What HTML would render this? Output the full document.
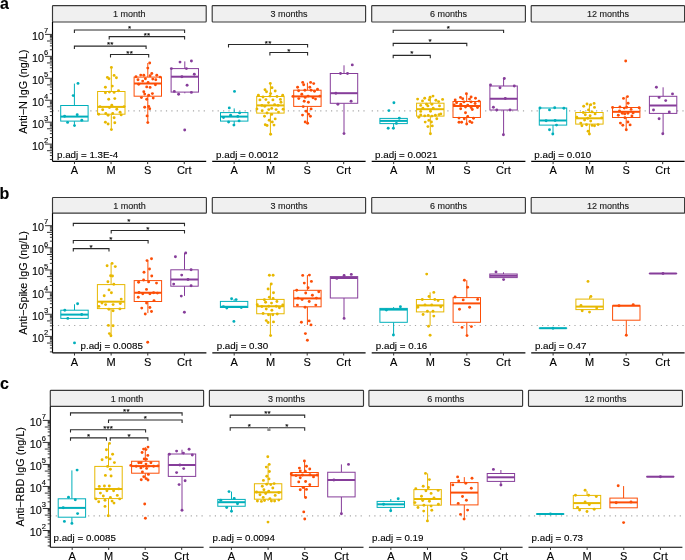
<!DOCTYPE html>
<html><head><meta charset="utf-8"><title>figure</title><style>
html,body{margin:0;padding:0;background:#fff;overflow:hidden;}
svg{display:block;will-change:transform;font-family:"Liberation Sans",sans-serif;}
text{stroke:#000;stroke-width:0.12px;paint-order:stroke;}
.lab{font-weight:bold;font-size:16px;fill:#000;}
.ttl{font-size:10.8px;fill:#000;text-anchor:middle;}
.strip{fill:#F0F0F0;stroke:#383838;stroke-width:1.15;}
.stx{font-size:9px;fill:#1a1a1a;text-anchor:middle;}
.dot{stroke:#a8a8a8;stroke-width:1.2;stroke-dasharray:1.2 4.2;}
.wh{stroke-width:1;}
.box{fill:#fff;stroke-width:1;}
.med{stroke-width:2;}
.br{fill:none;stroke:#2a2a2a;stroke-width:1.1;}
.star{font-size:8px;fill:#000;text-anchor:middle;stroke:#000;stroke-width:0.15px;letter-spacing:0.24px;}
.padj{font-size:9.8px;fill:#000;}
.ax{stroke:#000;stroke-width:1.15;}
.tk{stroke:#333;stroke-width:1;}
.xl{font-size:11px;fill:#000;text-anchor:middle;}
.yl{font-size:10.8px;fill:#000;}
.ys{font-size:7.5px;fill:#000;}
</style></head><body>
<svg width="685" height="560" viewBox="0 0 685 560">
<rect width="685" height="560" fill="#fff"/>
<text x="0.05" y="8.9" class="lab">a</text>
<text transform="translate(27.3,91.7) rotate(-90)" class="ttl">Anti−N IgG (ng/L)</text>
<rect x="52.5" y="5.65" width="153.7" height="16.35" rx="0.7" class="strip"/>
<text x="129.35" y="17.15" class="stx">1 month</text>
<line x1="52.5" y1="110.8" x2="206.2" y2="110.8" class="dot"/>
<line x1="74.4" y1="83.6" x2="74.4" y2="105.5" stroke="#00AFBB" class="wh"/>
<line x1="74.4" y1="121.1" x2="74.4" y2="125.4" stroke="#00AFBB" class="wh"/>
<rect x="60.7" y="105.5" width="27.4" height="15.6" stroke="#00AFBB" class="box"/>
<line x1="60.7" y1="116.6" x2="88.1" y2="116.6" stroke="#00AFBB" class="med"/>
<circle cx="78" cy="83.4" r="1.45" fill="#00AFBB"/>
<circle cx="73.2" cy="95.6" r="1.45" fill="#00AFBB"/>
<circle cx="64.6" cy="116.3" r="1.45" fill="#00AFBB"/>
<circle cx="77.2" cy="114.7" r="1.45" fill="#00AFBB"/>
<circle cx="81.8" cy="120.2" r="1.45" fill="#00AFBB"/>
<circle cx="67.6" cy="122.4" r="1.45" fill="#00AFBB"/>
<circle cx="74.5" cy="125.6" r="1.45" fill="#00AFBB"/>
<line x1="111.3" y1="67.4" x2="111.3" y2="91.5" stroke="#E7B800" class="wh"/>
<line x1="111.3" y1="114.2" x2="111.3" y2="129.6" stroke="#E7B800" class="wh"/>
<rect x="97.6" y="91.5" width="27.4" height="22.7" stroke="#E7B800" class="box"/>
<line x1="97.6" y1="106.9" x2="125" y2="106.9" stroke="#E7B800" class="med"/>
<circle cx="111.4" cy="67.4" r="1.45" fill="#E7B800"/>
<circle cx="114.1" cy="75.4" r="1.45" fill="#E7B800"/>
<circle cx="116.4" cy="77.8" r="1.45" fill="#E7B800"/>
<circle cx="107.4" cy="77.4" r="1.45" fill="#E7B800"/>
<circle cx="109" cy="78.7" r="1.45" fill="#E7B800"/>
<circle cx="105.4" cy="87.2" r="1.45" fill="#E7B800"/>
<circle cx="112.3" cy="86.1" r="1.45" fill="#E7B800"/>
<circle cx="105.4" cy="92.8" r="1.45" fill="#E7B800"/>
<circle cx="109.4" cy="92.1" r="1.45" fill="#E7B800"/>
<circle cx="114.1" cy="92.4" r="1.45" fill="#E7B800"/>
<circle cx="118.5" cy="90.8" r="1.45" fill="#E7B800"/>
<circle cx="108.7" cy="99.2" r="1.45" fill="#E7B800"/>
<circle cx="114.8" cy="98.6" r="1.45" fill="#E7B800"/>
<circle cx="100" cy="106.6" r="1.45" fill="#E7B800"/>
<circle cx="111.8" cy="105.2" r="1.45" fill="#E7B800"/>
<circle cx="109.4" cy="107.5" r="1.45" fill="#E7B800"/>
<circle cx="102.7" cy="109.8" r="1.45" fill="#E7B800"/>
<circle cx="116.8" cy="109.3" r="1.45" fill="#E7B800"/>
<circle cx="124.1" cy="106.6" r="1.45" fill="#E7B800"/>
<circle cx="98.7" cy="114.2" r="1.45" fill="#E7B800"/>
<circle cx="105.8" cy="113.5" r="1.45" fill="#E7B800"/>
<circle cx="108.1" cy="115.2" r="1.45" fill="#E7B800"/>
<circle cx="112.7" cy="113.5" r="1.45" fill="#E7B800"/>
<circle cx="120.1" cy="112.2" r="1.45" fill="#E7B800"/>
<circle cx="121.2" cy="114.9" r="1.45" fill="#E7B800"/>
<circle cx="114.1" cy="117.8" r="1.45" fill="#E7B800"/>
<circle cx="105.4" cy="122.2" r="1.45" fill="#E7B800"/>
<circle cx="108.1" cy="124" r="1.45" fill="#E7B800"/>
<circle cx="114.8" cy="122.7" r="1.45" fill="#E7B800"/>
<circle cx="111.4" cy="129.6" r="1.45" fill="#E7B800"/>
<line x1="147.8" y1="63" x2="147.8" y2="77.1" stroke="#FC4E07" class="wh"/>
<line x1="147.8" y1="96.2" x2="147.8" y2="122.6" stroke="#FC4E07" class="wh"/>
<rect x="134.1" y="77.1" width="27.4" height="19.1" stroke="#FC4E07" class="box"/>
<line x1="134.1" y1="83.5" x2="161.5" y2="83.5" stroke="#FC4E07" class="med"/>
<circle cx="149.7" cy="63" r="1.45" fill="#FC4E07"/>
<circle cx="147.8" cy="68.1" r="1.45" fill="#FC4E07"/>
<circle cx="136" cy="76.7" r="1.45" fill="#FC4E07"/>
<circle cx="140.7" cy="75.1" r="1.45" fill="#FC4E07"/>
<circle cx="143.8" cy="75.3" r="1.45" fill="#FC4E07"/>
<circle cx="151.8" cy="73.5" r="1.45" fill="#FC4E07"/>
<circle cx="150.1" cy="75.7" r="1.45" fill="#FC4E07"/>
<circle cx="156.8" cy="75.3" r="1.45" fill="#FC4E07"/>
<circle cx="160.1" cy="77.1" r="1.45" fill="#FC4E07"/>
<circle cx="138" cy="79.8" r="1.45" fill="#FC4E07"/>
<circle cx="142.7" cy="81.1" r="1.45" fill="#FC4E07"/>
<circle cx="145.4" cy="78.8" r="1.45" fill="#FC4E07"/>
<circle cx="152.8" cy="79.1" r="1.45" fill="#FC4E07"/>
<circle cx="155.8" cy="79.8" r="1.45" fill="#FC4E07"/>
<circle cx="138.7" cy="84.2" r="1.45" fill="#FC4E07"/>
<circle cx="148.1" cy="82.4" r="1.45" fill="#FC4E07"/>
<circle cx="155.4" cy="84.7" r="1.45" fill="#FC4E07"/>
<circle cx="146.7" cy="86.9" r="1.45" fill="#FC4E07"/>
<circle cx="150.1" cy="87.4" r="1.45" fill="#FC4E07"/>
<circle cx="143.8" cy="91.8" r="1.45" fill="#FC4E07"/>
<circle cx="144.7" cy="94.1" r="1.45" fill="#FC4E07"/>
<circle cx="148.7" cy="95.2" r="1.45" fill="#FC4E07"/>
<circle cx="152.4" cy="93.6" r="1.45" fill="#FC4E07"/>
<circle cx="141.4" cy="97.6" r="1.45" fill="#FC4E07"/>
<circle cx="146.7" cy="99.2" r="1.45" fill="#FC4E07"/>
<circle cx="153.2" cy="98.1" r="1.45" fill="#FC4E07"/>
<circle cx="144.7" cy="107.2" r="1.45" fill="#FC4E07"/>
<circle cx="148.7" cy="106.5" r="1.45" fill="#FC4E07"/>
<circle cx="149.7" cy="108.8" r="1.45" fill="#FC4E07"/>
<circle cx="147.1" cy="115.9" r="1.45" fill="#FC4E07"/>
<circle cx="147.8" cy="122.6" r="1.45" fill="#FC4E07"/>
<line x1="184.8" y1="61.4" x2="184.8" y2="68.6" stroke="#863D9A" class="wh"/>
<line x1="184.8" y1="92.1" x2="184.8" y2="93.3" stroke="#863D9A" class="wh"/>
<rect x="171.1" y="68.6" width="27.4" height="23.5" stroke="#863D9A" class="box"/>
<line x1="171.1" y1="76.7" x2="198.5" y2="76.7" stroke="#863D9A" class="med"/>
<circle cx="180" cy="62.1" r="1.45" fill="#863D9A"/>
<circle cx="191.4" cy="61" r="1.45" fill="#863D9A"/>
<circle cx="171.4" cy="68.6" r="1.45" fill="#863D9A"/>
<circle cx="186.4" cy="68.6" r="1.45" fill="#863D9A"/>
<circle cx="194.3" cy="74.3" r="1.45" fill="#863D9A"/>
<circle cx="181.9" cy="76.7" r="1.45" fill="#863D9A"/>
<circle cx="187.1" cy="85.3" r="1.45" fill="#863D9A"/>
<circle cx="174.3" cy="91.4" r="1.45" fill="#863D9A"/>
<circle cx="178.6" cy="94.3" r="1.45" fill="#863D9A"/>
<circle cx="191.4" cy="92.4" r="1.45" fill="#863D9A"/>
<circle cx="184.7" cy="130" r="1.45" fill="#863D9A"/>
<path d="M74.4 32.9V30H184.6V32.9" class="br"/>
<text x="129.62" y="31" class="star">*</text>
<path d="M109.2 39.5V36.6H184.6V39.5" class="br"/>
<text x="147.02" y="37.6" class="star">**</text>
<path d="M74.4 49V46.1H146.1V49" class="br"/>
<text x="110.37" y="47.1" class="star">**</text>
<path d="M110.5 57.4V54.5H148.7V57.4" class="br"/>
<text x="129.72" y="55.5" class="star">**</text>
<text x="57" y="158.3" class="padj">p.adj = 1.3E-4</text>
<line x1="52.5" y1="161.4" x2="206.2" y2="161.4" class="ax"/>
<line x1="74.46" y1="161.4" x2="74.46" y2="164.1" class="tk"/>
<text x="74.46" y="174.4" class="xl">A</text>
<line x1="111.05" y1="161.4" x2="111.05" y2="164.1" class="tk"/>
<text x="111.05" y="174.4" class="xl">M</text>
<line x1="147.65" y1="161.4" x2="147.65" y2="164.1" class="tk"/>
<text x="147.65" y="174.4" class="xl">S</text>
<line x1="184.24" y1="161.4" x2="184.24" y2="164.1" class="tk"/>
<text x="184.24" y="174.4" class="xl">Crt</text>
<line x1="52.5" y1="22" x2="52.5" y2="161.4" class="ax"/>
<line x1="49.9" y1="159.44" x2="52.5" y2="159.44" class="tk"/>
<line x1="49.9" y1="155.57" x2="52.5" y2="155.57" class="tk"/>
<line x1="49.9" y1="152.83" x2="52.5" y2="152.83" class="tk"/>
<line x1="47" y1="150.7" x2="52.5" y2="150.7" class="tk"/>
<line x1="49.9" y1="148.97" x2="52.5" y2="148.97" class="tk"/>
<line x1="49.9" y1="147.5" x2="52.5" y2="147.5" class="tk"/>
<line x1="49.9" y1="146.23" x2="52.5" y2="146.23" class="tk"/>
<line x1="49.9" y1="145.1" x2="52.5" y2="145.1" class="tk"/>
<line x1="45" y1="144.1" x2="52.5" y2="144.1" class="tk"/>
<text x="31.93" y="149.6" class="yl">10</text>
<text x="43.9" y="142.8" class="ys">2</text>
<line x1="49.9" y1="137.5" x2="52.5" y2="137.5" class="tk"/>
<line x1="49.9" y1="133.63" x2="52.5" y2="133.63" class="tk"/>
<line x1="49.9" y1="130.89" x2="52.5" y2="130.89" class="tk"/>
<line x1="47" y1="128.76" x2="52.5" y2="128.76" class="tk"/>
<line x1="49.9" y1="127.03" x2="52.5" y2="127.03" class="tk"/>
<line x1="49.9" y1="125.56" x2="52.5" y2="125.56" class="tk"/>
<line x1="49.9" y1="124.29" x2="52.5" y2="124.29" class="tk"/>
<line x1="49.9" y1="123.16" x2="52.5" y2="123.16" class="tk"/>
<line x1="45" y1="122.16" x2="52.5" y2="122.16" class="tk"/>
<text x="31.93" y="127.66" class="yl">10</text>
<text x="43.9" y="120.86" class="ys">3</text>
<line x1="49.9" y1="115.56" x2="52.5" y2="115.56" class="tk"/>
<line x1="49.9" y1="111.69" x2="52.5" y2="111.69" class="tk"/>
<line x1="49.9" y1="108.95" x2="52.5" y2="108.95" class="tk"/>
<line x1="47" y1="106.82" x2="52.5" y2="106.82" class="tk"/>
<line x1="49.9" y1="105.09" x2="52.5" y2="105.09" class="tk"/>
<line x1="49.9" y1="103.62" x2="52.5" y2="103.62" class="tk"/>
<line x1="49.9" y1="102.35" x2="52.5" y2="102.35" class="tk"/>
<line x1="49.9" y1="101.22" x2="52.5" y2="101.22" class="tk"/>
<line x1="45" y1="100.22" x2="52.5" y2="100.22" class="tk"/>
<text x="31.93" y="105.72" class="yl">10</text>
<text x="43.9" y="98.92" class="ys">4</text>
<line x1="49.9" y1="93.62" x2="52.5" y2="93.62" class="tk"/>
<line x1="49.9" y1="89.75" x2="52.5" y2="89.75" class="tk"/>
<line x1="49.9" y1="87.01" x2="52.5" y2="87.01" class="tk"/>
<line x1="47" y1="84.88" x2="52.5" y2="84.88" class="tk"/>
<line x1="49.9" y1="83.15" x2="52.5" y2="83.15" class="tk"/>
<line x1="49.9" y1="81.68" x2="52.5" y2="81.68" class="tk"/>
<line x1="49.9" y1="80.41" x2="52.5" y2="80.41" class="tk"/>
<line x1="49.9" y1="79.28" x2="52.5" y2="79.28" class="tk"/>
<line x1="45" y1="78.28" x2="52.5" y2="78.28" class="tk"/>
<text x="31.93" y="83.78" class="yl">10</text>
<text x="43.9" y="76.98" class="ys">5</text>
<line x1="49.9" y1="71.68" x2="52.5" y2="71.68" class="tk"/>
<line x1="49.9" y1="67.81" x2="52.5" y2="67.81" class="tk"/>
<line x1="49.9" y1="65.07" x2="52.5" y2="65.07" class="tk"/>
<line x1="47" y1="62.94" x2="52.5" y2="62.94" class="tk"/>
<line x1="49.9" y1="61.21" x2="52.5" y2="61.21" class="tk"/>
<line x1="49.9" y1="59.74" x2="52.5" y2="59.74" class="tk"/>
<line x1="49.9" y1="58.47" x2="52.5" y2="58.47" class="tk"/>
<line x1="49.9" y1="57.34" x2="52.5" y2="57.34" class="tk"/>
<line x1="45" y1="56.34" x2="52.5" y2="56.34" class="tk"/>
<text x="31.93" y="61.84" class="yl">10</text>
<text x="43.9" y="55.04" class="ys">6</text>
<line x1="49.9" y1="49.74" x2="52.5" y2="49.74" class="tk"/>
<line x1="49.9" y1="45.87" x2="52.5" y2="45.87" class="tk"/>
<line x1="49.9" y1="43.13" x2="52.5" y2="43.13" class="tk"/>
<line x1="47" y1="41" x2="52.5" y2="41" class="tk"/>
<line x1="49.9" y1="39.27" x2="52.5" y2="39.27" class="tk"/>
<line x1="49.9" y1="37.8" x2="52.5" y2="37.8" class="tk"/>
<line x1="49.9" y1="36.53" x2="52.5" y2="36.53" class="tk"/>
<line x1="49.9" y1="35.4" x2="52.5" y2="35.4" class="tk"/>
<line x1="45" y1="34.4" x2="52.5" y2="34.4" class="tk"/>
<text x="31.93" y="39.9" class="yl">10</text>
<text x="43.9" y="33.1" class="ys">7</text>
<rect x="212.2" y="5.65" width="153.4" height="16.35" rx="0.7" class="strip"/>
<text x="288.9" y="17.15" class="stx">3 months</text>
<line x1="212.2" y1="110.8" x2="365.6" y2="110.8" class="dot"/>
<line x1="234.2" y1="108.4" x2="234.2" y2="112.6" stroke="#00AFBB" class="wh"/>
<line x1="234.2" y1="121.1" x2="234.2" y2="125.1" stroke="#00AFBB" class="wh"/>
<rect x="220.5" y="112.6" width="27.4" height="8.5" stroke="#00AFBB" class="box"/>
<line x1="220.5" y1="116.6" x2="247.9" y2="116.6" stroke="#00AFBB" class="med"/>
<circle cx="234.5" cy="91.4" r="1.45" fill="#00AFBB"/>
<circle cx="229.3" cy="107.9" r="1.45" fill="#00AFBB"/>
<circle cx="239.6" cy="112.9" r="1.45" fill="#00AFBB"/>
<circle cx="230.6" cy="115.3" r="1.45" fill="#00AFBB"/>
<circle cx="223.5" cy="117.5" r="1.45" fill="#00AFBB"/>
<circle cx="237.8" cy="116.4" r="1.45" fill="#00AFBB"/>
<circle cx="239.1" cy="120.9" r="1.45" fill="#00AFBB"/>
<circle cx="228.6" cy="122" r="1.45" fill="#00AFBB"/>
<circle cx="233.9" cy="125.1" r="1.45" fill="#00AFBB"/>
<line x1="270.4" y1="83.4" x2="270.4" y2="96.5" stroke="#E7B800" class="wh"/>
<line x1="270.4" y1="113.1" x2="270.4" y2="134.2" stroke="#E7B800" class="wh"/>
<rect x="256.7" y="96.5" width="27.4" height="16.6" stroke="#E7B800" class="box"/>
<line x1="256.7" y1="105.4" x2="284.1" y2="105.4" stroke="#E7B800" class="med"/>
<circle cx="270.3" cy="83.4" r="1.45" fill="#E7B800"/>
<circle cx="272" cy="87.8" r="1.45" fill="#E7B800"/>
<circle cx="265" cy="89.8" r="1.45" fill="#E7B800"/>
<circle cx="266.5" cy="91.8" r="1.45" fill="#E7B800"/>
<circle cx="275.2" cy="91" r="1.45" fill="#E7B800"/>
<circle cx="270.6" cy="93.6" r="1.45" fill="#E7B800"/>
<circle cx="258.4" cy="95.3" r="1.45" fill="#E7B800"/>
<circle cx="263" cy="97" r="1.45" fill="#E7B800"/>
<circle cx="270" cy="96.1" r="1.45" fill="#E7B800"/>
<circle cx="277" cy="96.5" r="1.45" fill="#E7B800"/>
<circle cx="282.7" cy="95.3" r="1.45" fill="#E7B800"/>
<circle cx="259.9" cy="99.9" r="1.45" fill="#E7B800"/>
<circle cx="265.9" cy="99.6" r="1.45" fill="#E7B800"/>
<circle cx="272.9" cy="99.9" r="1.45" fill="#E7B800"/>
<circle cx="280.4" cy="99.4" r="1.45" fill="#E7B800"/>
<circle cx="268.5" cy="102.6" r="1.45" fill="#E7B800"/>
<circle cx="281" cy="102.3" r="1.45" fill="#E7B800"/>
<circle cx="261.9" cy="105.4" r="1.45" fill="#E7B800"/>
<circle cx="264.8" cy="106.3" r="1.45" fill="#E7B800"/>
<circle cx="274.6" cy="104.6" r="1.45" fill="#E7B800"/>
<circle cx="278.1" cy="105.4" r="1.45" fill="#E7B800"/>
<circle cx="256.9" cy="108.9" r="1.45" fill="#E7B800"/>
<circle cx="262.2" cy="110.7" r="1.45" fill="#E7B800"/>
<circle cx="268.8" cy="109.6" r="1.45" fill="#E7B800"/>
<circle cx="271.7" cy="108.4" r="1.45" fill="#E7B800"/>
<circle cx="276.1" cy="109.6" r="1.45" fill="#E7B800"/>
<circle cx="283.1" cy="109.2" r="1.45" fill="#E7B800"/>
<circle cx="278.5" cy="112.1" r="1.45" fill="#E7B800"/>
<circle cx="267.1" cy="113" r="1.45" fill="#E7B800"/>
<circle cx="271.7" cy="114.4" r="1.45" fill="#E7B800"/>
<circle cx="264.5" cy="116.2" r="1.45" fill="#E7B800"/>
<circle cx="275.2" cy="118.9" r="1.45" fill="#E7B800"/>
<circle cx="269.2" cy="120.2" r="1.45" fill="#E7B800"/>
<circle cx="272.3" cy="122" r="1.45" fill="#E7B800"/>
<circle cx="265.3" cy="124.7" r="1.45" fill="#E7B800"/>
<circle cx="267.1" cy="125.5" r="1.45" fill="#E7B800"/>
<circle cx="274" cy="125.1" r="1.45" fill="#E7B800"/>
<circle cx="270.6" cy="134.2" r="1.45" fill="#E7B800"/>
<line x1="307.4" y1="82.7" x2="307.4" y2="90.2" stroke="#FC4E07" class="wh"/>
<line x1="307.4" y1="106.4" x2="307.4" y2="123.6" stroke="#FC4E07" class="wh"/>
<rect x="293.7" y="90.2" width="27.4" height="16.2" stroke="#FC4E07" class="box"/>
<line x1="293.7" y1="96.4" x2="321.1" y2="96.4" stroke="#FC4E07" class="med"/>
<circle cx="302.7" cy="82.4" r="1.45" fill="#FC4E07"/>
<circle cx="303.7" cy="84.8" r="1.45" fill="#FC4E07"/>
<circle cx="310.6" cy="82.4" r="1.45" fill="#FC4E07"/>
<circle cx="313.7" cy="83.6" r="1.45" fill="#FC4E07"/>
<circle cx="297.6" cy="87.3" r="1.45" fill="#FC4E07"/>
<circle cx="309.8" cy="87.3" r="1.45" fill="#FC4E07"/>
<circle cx="298.6" cy="90.7" r="1.45" fill="#FC4E07"/>
<circle cx="304.9" cy="90.2" r="1.45" fill="#FC4E07"/>
<circle cx="311.1" cy="90.2" r="1.45" fill="#FC4E07"/>
<circle cx="314.5" cy="91.2" r="1.45" fill="#FC4E07"/>
<circle cx="317.5" cy="89.2" r="1.45" fill="#FC4E07"/>
<circle cx="301.8" cy="94.2" r="1.45" fill="#FC4E07"/>
<circle cx="292.9" cy="96.4" r="1.45" fill="#FC4E07"/>
<circle cx="308.1" cy="96.1" r="1.45" fill="#FC4E07"/>
<circle cx="319.9" cy="96.1" r="1.45" fill="#FC4E07"/>
<circle cx="298.8" cy="98.6" r="1.45" fill="#FC4E07"/>
<circle cx="305.2" cy="97.4" r="1.45" fill="#FC4E07"/>
<circle cx="313" cy="97.8" r="1.45" fill="#FC4E07"/>
<circle cx="315.5" cy="99.1" r="1.45" fill="#FC4E07"/>
<circle cx="304.2" cy="101.3" r="1.45" fill="#FC4E07"/>
<circle cx="308.4" cy="102.3" r="1.45" fill="#FC4E07"/>
<circle cx="303.2" cy="106.6" r="1.45" fill="#FC4E07"/>
<circle cx="311.1" cy="108.9" r="1.45" fill="#FC4E07"/>
<circle cx="306.2" cy="111.3" r="1.45" fill="#FC4E07"/>
<circle cx="308.6" cy="114.1" r="1.45" fill="#FC4E07"/>
<circle cx="302.5" cy="115.1" r="1.45" fill="#FC4E07"/>
<circle cx="310.4" cy="116.3" r="1.45" fill="#FC4E07"/>
<circle cx="305.2" cy="122" r="1.45" fill="#FC4E07"/>
<circle cx="307.6" cy="123.3" r="1.45" fill="#FC4E07"/>
<line x1="344" y1="65.3" x2="344" y2="73.5" stroke="#863D9A" class="wh"/>
<line x1="344" y1="103.3" x2="344" y2="133.6" stroke="#863D9A" class="wh"/>
<rect x="330.3" y="73.5" width="27.4" height="29.8" stroke="#863D9A" class="box"/>
<line x1="330.3" y1="93.2" x2="357.7" y2="93.2" stroke="#863D9A" class="med"/>
<circle cx="352.3" cy="64.9" r="1.45" fill="#863D9A"/>
<circle cx="340.5" cy="73.5" r="1.45" fill="#863D9A"/>
<circle cx="347.5" cy="73.5" r="1.45" fill="#863D9A"/>
<circle cx="335.9" cy="93.2" r="1.45" fill="#863D9A"/>
<circle cx="351.1" cy="101.3" r="1.45" fill="#863D9A"/>
<circle cx="337.9" cy="104.3" r="1.45" fill="#863D9A"/>
<circle cx="344" cy="133.6" r="1.45" fill="#863D9A"/>
<path d="M228.5 47.4V44.5H307.6V47.4" class="br"/>
<text x="268.17" y="45.5" class="star">**</text>
<path d="M269.9 55.4V52.5H307.6V55.4" class="br"/>
<text x="288.87" y="53.5" class="star">*</text>
<text x="216.1" y="158.3" class="padj">p.adj = 0.0012</text>
<line x1="212.2" y1="161.4" x2="365.6" y2="161.4" class="ax"/>
<line x1="234.11" y1="161.4" x2="234.11" y2="164.1" class="tk"/>
<text x="234.11" y="174.4" class="xl">A</text>
<line x1="270.64" y1="161.4" x2="270.64" y2="164.1" class="tk"/>
<text x="270.64" y="174.4" class="xl">M</text>
<line x1="307.16" y1="161.4" x2="307.16" y2="164.1" class="tk"/>
<text x="307.16" y="174.4" class="xl">S</text>
<line x1="343.69" y1="161.4" x2="343.69" y2="164.1" class="tk"/>
<text x="343.69" y="174.4" class="xl">Crt</text>
<rect x="371.7" y="5.65" width="153.7" height="16.35" rx="0.7" class="strip"/>
<text x="448.55" y="17.15" class="stx">6 months</text>
<line x1="371.7" y1="110.8" x2="525.4" y2="110.8" class="dot"/>
<line x1="393.6" y1="123.6" x2="393.6" y2="128.2" stroke="#00AFBB" class="wh"/>
<rect x="379.9" y="118.4" width="27.4" height="5.2" stroke="#00AFBB" class="box"/>
<line x1="379.9" y1="120.9" x2="407.3" y2="120.9" stroke="#00AFBB" class="med"/>
<circle cx="393.9" cy="102.7" r="1.45" fill="#00AFBB"/>
<circle cx="388.9" cy="110.6" r="1.45" fill="#00AFBB"/>
<circle cx="399.3" cy="118.2" r="1.45" fill="#00AFBB"/>
<circle cx="396.4" cy="123.4" r="1.45" fill="#00AFBB"/>
<circle cx="388.2" cy="128.2" r="1.45" fill="#00AFBB"/>
<circle cx="393.4" cy="128.2" r="1.45" fill="#00AFBB"/>
<line x1="430.3" y1="96.1" x2="430.3" y2="103.2" stroke="#E7B800" class="wh"/>
<line x1="430.3" y1="116.1" x2="430.3" y2="133.75" stroke="#E7B800" class="wh"/>
<rect x="416.6" y="103.2" width="27.4" height="12.9" stroke="#E7B800" class="box"/>
<line x1="416.6" y1="109.2" x2="444" y2="109.2" stroke="#E7B800" class="med"/>
<circle cx="417.6" cy="99.1" r="1.45" fill="#E7B800"/>
<circle cx="424.7" cy="98.2" r="1.45" fill="#E7B800"/>
<circle cx="422.5" cy="100.9" r="1.45" fill="#E7B800"/>
<circle cx="430.1" cy="97.3" r="1.45" fill="#E7B800"/>
<circle cx="433" cy="96.1" r="1.45" fill="#E7B800"/>
<circle cx="429.2" cy="99.8" r="1.45" fill="#E7B800"/>
<circle cx="435.9" cy="100.3" r="1.45" fill="#E7B800"/>
<circle cx="438.6" cy="101.6" r="1.45" fill="#E7B800"/>
<circle cx="442.6" cy="99.4" r="1.45" fill="#E7B800"/>
<circle cx="420.7" cy="105.4" r="1.45" fill="#E7B800"/>
<circle cx="426.5" cy="104.3" r="1.45" fill="#E7B800"/>
<circle cx="427.9" cy="105.9" r="1.45" fill="#E7B800"/>
<circle cx="431.9" cy="104.3" r="1.45" fill="#E7B800"/>
<circle cx="439.5" cy="105.9" r="1.45" fill="#E7B800"/>
<circle cx="422.9" cy="108.3" r="1.45" fill="#E7B800"/>
<circle cx="433.2" cy="108.3" r="1.45" fill="#E7B800"/>
<circle cx="420.7" cy="111.4" r="1.45" fill="#E7B800"/>
<circle cx="430.5" cy="111.3" r="1.45" fill="#E7B800"/>
<circle cx="440.8" cy="113.9" r="1.45" fill="#E7B800"/>
<circle cx="420.7" cy="115" r="1.45" fill="#E7B800"/>
<circle cx="424.7" cy="115.9" r="1.45" fill="#E7B800"/>
<circle cx="428.3" cy="115.4" r="1.45" fill="#E7B800"/>
<circle cx="431.9" cy="116.1" r="1.45" fill="#E7B800"/>
<circle cx="435.4" cy="115.2" r="1.45" fill="#E7B800"/>
<circle cx="439" cy="114.6" r="1.45" fill="#E7B800"/>
<circle cx="418.8" cy="117.2" r="1.45" fill="#E7B800"/>
<circle cx="436.8" cy="118.8" r="1.45" fill="#E7B800"/>
<circle cx="428.8" cy="120.4" r="1.45" fill="#E7B800"/>
<circle cx="425.2" cy="122.1" r="1.45" fill="#E7B800"/>
<circle cx="431.4" cy="122" r="1.45" fill="#E7B800"/>
<circle cx="427.9" cy="126.6" r="1.45" fill="#E7B800"/>
<circle cx="432.3" cy="125.9" r="1.45" fill="#E7B800"/>
<circle cx="430.4" cy="133.75" r="1.45" fill="#E7B800"/>
<line x1="466.7" y1="93.8" x2="466.7" y2="101.5" stroke="#FC4E07" class="wh"/>
<line x1="466.7" y1="117.5" x2="466.7" y2="124" stroke="#FC4E07" class="wh"/>
<rect x="453" y="101.5" width="27.4" height="16" stroke="#FC4E07" class="box"/>
<line x1="453" y1="106" x2="480.4" y2="106" stroke="#FC4E07" class="med"/>
<circle cx="466.4" cy="93.8" r="1.45" fill="#FC4E07"/>
<circle cx="460.5" cy="97.4" r="1.45" fill="#FC4E07"/>
<circle cx="462.7" cy="98.7" r="1.45" fill="#FC4E07"/>
<circle cx="471.1" cy="97" r="1.45" fill="#FC4E07"/>
<circle cx="469.5" cy="99.1" r="1.45" fill="#FC4E07"/>
<circle cx="475.5" cy="98.3" r="1.45" fill="#FC4E07"/>
<circle cx="455.2" cy="99.9" r="1.45" fill="#FC4E07"/>
<circle cx="456.6" cy="102.8" r="1.45" fill="#FC4E07"/>
<circle cx="463.9" cy="101.9" r="1.45" fill="#FC4E07"/>
<circle cx="471.1" cy="101.9" r="1.45" fill="#FC4E07"/>
<circle cx="475.1" cy="103.5" r="1.45" fill="#FC4E07"/>
<circle cx="479" cy="101.1" r="1.45" fill="#FC4E07"/>
<circle cx="454.2" cy="104.9" r="1.45" fill="#FC4E07"/>
<circle cx="460.8" cy="104.3" r="1.45" fill="#FC4E07"/>
<circle cx="467.7" cy="105.1" r="1.45" fill="#FC4E07"/>
<circle cx="465.5" cy="107.1" r="1.45" fill="#FC4E07"/>
<circle cx="471.1" cy="107.5" r="1.45" fill="#FC4E07"/>
<circle cx="477.5" cy="107.5" r="1.45" fill="#FC4E07"/>
<circle cx="460.7" cy="108.7" r="1.45" fill="#FC4E07"/>
<circle cx="472.3" cy="109.5" r="1.45" fill="#FC4E07"/>
<circle cx="465.5" cy="112.7" r="1.45" fill="#FC4E07"/>
<circle cx="467.7" cy="116.5" r="1.45" fill="#FC4E07"/>
<circle cx="459" cy="118.1" r="1.45" fill="#FC4E07"/>
<circle cx="464.3" cy="118.7" r="1.45" fill="#FC4E07"/>
<circle cx="473.5" cy="118.3" r="1.45" fill="#FC4E07"/>
<circle cx="459" cy="122.3" r="1.45" fill="#FC4E07"/>
<circle cx="461.6" cy="122.3" r="1.45" fill="#FC4E07"/>
<circle cx="469.9" cy="121.5" r="1.45" fill="#FC4E07"/>
<circle cx="471.9" cy="122.6" r="1.45" fill="#FC4E07"/>
<circle cx="466.7" cy="124" r="1.45" fill="#FC4E07"/>
<line x1="503.6" y1="78.5" x2="503.6" y2="86" stroke="#863D9A" class="wh"/>
<line x1="503.6" y1="110" x2="503.6" y2="134.75" stroke="#863D9A" class="wh"/>
<rect x="489.9" y="86" width="27.4" height="24" stroke="#863D9A" class="box"/>
<line x1="489.9" y1="98.75" x2="517.3" y2="98.75" stroke="#863D9A" class="med"/>
<circle cx="504.3" cy="78.5" r="1.45" fill="#863D9A"/>
<circle cx="490.5" cy="85" r="1.45" fill="#863D9A"/>
<circle cx="500" cy="87.75" r="1.45" fill="#863D9A"/>
<circle cx="514.3" cy="86" r="1.45" fill="#863D9A"/>
<circle cx="505.3" cy="98.5" r="1.45" fill="#863D9A"/>
<circle cx="493.4" cy="107.25" r="1.45" fill="#863D9A"/>
<circle cx="496.75" cy="110" r="1.45" fill="#863D9A"/>
<circle cx="510" cy="110" r="1.45" fill="#863D9A"/>
<circle cx="503.4" cy="134.75" r="1.45" fill="#863D9A"/>
<path d="M393.2 33.1V30.2H503.6V33.1" class="br"/>
<text x="448.52" y="31.2" class="star">*</text>
<path d="M393.2 46.3V43.4H466.8V46.3" class="br"/>
<text x="430.12" y="44.4" class="star">*</text>
<path d="M393.2 58.3V55.4H430.3V58.3" class="br"/>
<text x="411.87" y="56.4" class="star">*</text>
<text x="375.1" y="158.3" class="padj">p.adj = 0.0021</text>
<line x1="371.7" y1="161.4" x2="525.4" y2="161.4" class="ax"/>
<line x1="393.66" y1="161.4" x2="393.66" y2="164.1" class="tk"/>
<text x="393.66" y="174.4" class="xl">A</text>
<line x1="430.25" y1="161.4" x2="430.25" y2="164.1" class="tk"/>
<text x="430.25" y="174.4" class="xl">M</text>
<line x1="466.85" y1="161.4" x2="466.85" y2="164.1" class="tk"/>
<text x="466.85" y="174.4" class="xl">S</text>
<line x1="503.44" y1="161.4" x2="503.44" y2="164.1" class="tk"/>
<text x="503.44" y="174.4" class="xl">Crt</text>
<rect x="531.2" y="5.65" width="153.4" height="16.35" rx="0.7" class="strip"/>
<text x="607.9" y="17.15" class="stx">12 months</text>
<line x1="531.2" y1="110.8" x2="684.6" y2="110.8" class="dot"/>
<line x1="553" y1="125.1" x2="553" y2="134" stroke="#00AFBB" class="wh"/>
<rect x="539.3" y="108" width="27.4" height="17.1" stroke="#00AFBB" class="box"/>
<line x1="539.3" y1="120.5" x2="566.7" y2="120.5" stroke="#00AFBB" class="med"/>
<circle cx="540" cy="108" r="1.45" fill="#00AFBB"/>
<circle cx="549.5" cy="109.9" r="1.45" fill="#00AFBB"/>
<circle cx="554.7" cy="107.7" r="1.45" fill="#00AFBB"/>
<circle cx="563.9" cy="108.3" r="1.45" fill="#00AFBB"/>
<circle cx="546.1" cy="120.7" r="1.45" fill="#00AFBB"/>
<circle cx="555.1" cy="120.5" r="1.45" fill="#00AFBB"/>
<circle cx="556.5" cy="125.1" r="1.45" fill="#00AFBB"/>
<circle cx="549.5" cy="129.7" r="1.45" fill="#00AFBB"/>
<circle cx="552.8" cy="134" r="1.45" fill="#00AFBB"/>
<line x1="589.4" y1="104" x2="589.4" y2="112.5" stroke="#E7B800" class="wh"/>
<line x1="589.4" y1="124.1" x2="589.4" y2="134.4" stroke="#E7B800" class="wh"/>
<rect x="575.7" y="112.5" width="27.4" height="11.6" stroke="#E7B800" class="box"/>
<line x1="575.7" y1="118.3" x2="603.1" y2="118.3" stroke="#E7B800" class="med"/>
<circle cx="583.7" cy="106.2" r="1.45" fill="#E7B800"/>
<circle cx="587" cy="104" r="1.45" fill="#E7B800"/>
<circle cx="590.7" cy="104.8" r="1.45" fill="#E7B800"/>
<circle cx="594.1" cy="103.4" r="1.45" fill="#E7B800"/>
<circle cx="594.5" cy="107.4" r="1.45" fill="#E7B800"/>
<circle cx="588.5" cy="109.9" r="1.45" fill="#E7B800"/>
<circle cx="583.3" cy="112.5" r="1.45" fill="#E7B800"/>
<circle cx="585.3" cy="114.7" r="1.45" fill="#E7B800"/>
<circle cx="592.1" cy="111.9" r="1.45" fill="#E7B800"/>
<circle cx="595.1" cy="113.9" r="1.45" fill="#E7B800"/>
<circle cx="590.1" cy="115.7" r="1.45" fill="#E7B800"/>
<circle cx="576.8" cy="117.3" r="1.45" fill="#E7B800"/>
<circle cx="587.7" cy="118.3" r="1.45" fill="#E7B800"/>
<circle cx="601.7" cy="117.9" r="1.45" fill="#E7B800"/>
<circle cx="584.6" cy="120.1" r="1.45" fill="#E7B800"/>
<circle cx="590.7" cy="121.1" r="1.45" fill="#E7B800"/>
<circle cx="580.8" cy="123.1" r="1.45" fill="#E7B800"/>
<circle cx="581.9" cy="125.7" r="1.45" fill="#E7B800"/>
<circle cx="586.5" cy="124.7" r="1.45" fill="#E7B800"/>
<circle cx="592.1" cy="125.4" r="1.45" fill="#E7B800"/>
<circle cx="594.5" cy="125.7" r="1.45" fill="#E7B800"/>
<circle cx="598.1" cy="124.6" r="1.45" fill="#E7B800"/>
<circle cx="588.1" cy="131.3" r="1.45" fill="#E7B800"/>
<circle cx="589.4" cy="134" r="1.45" fill="#E7B800"/>
<line x1="626.2" y1="96.6" x2="626.2" y2="107.5" stroke="#FC4E07" class="wh"/>
<line x1="626.2" y1="117.5" x2="626.2" y2="129.8" stroke="#FC4E07" class="wh"/>
<rect x="612.5" y="107.5" width="27.4" height="10" stroke="#FC4E07" class="box"/>
<line x1="612.5" y1="111.8" x2="639.9" y2="111.8" stroke="#FC4E07" class="med"/>
<circle cx="625.7" cy="61" r="1.45" fill="#FC4E07"/>
<circle cx="627.5" cy="96.6" r="1.45" fill="#FC4E07"/>
<circle cx="623.5" cy="98.4" r="1.45" fill="#FC4E07"/>
<circle cx="628.1" cy="103.3" r="1.45" fill="#FC4E07"/>
<circle cx="612.6" cy="107.5" r="1.45" fill="#FC4E07"/>
<circle cx="619.9" cy="107" r="1.45" fill="#FC4E07"/>
<circle cx="624.3" cy="108.1" r="1.45" fill="#FC4E07"/>
<circle cx="626.7" cy="107.3" r="1.45" fill="#FC4E07"/>
<circle cx="639.1" cy="107.8" r="1.45" fill="#FC4E07"/>
<circle cx="631.1" cy="109.4" r="1.45" fill="#FC4E07"/>
<circle cx="619.5" cy="111" r="1.45" fill="#FC4E07"/>
<circle cx="622.3" cy="113.3" r="1.45" fill="#FC4E07"/>
<circle cx="624.7" cy="113.9" r="1.45" fill="#FC4E07"/>
<circle cx="627.9" cy="113.3" r="1.45" fill="#FC4E07"/>
<circle cx="633.1" cy="112.9" r="1.45" fill="#FC4E07"/>
<circle cx="618.3" cy="115.3" r="1.45" fill="#FC4E07"/>
<circle cx="631.9" cy="115.9" r="1.45" fill="#FC4E07"/>
<circle cx="624.9" cy="117.7" r="1.45" fill="#FC4E07"/>
<circle cx="627.9" cy="122" r="1.45" fill="#FC4E07"/>
<circle cx="620.4" cy="123.1" r="1.45" fill="#FC4E07"/>
<circle cx="622.8" cy="125.3" r="1.45" fill="#FC4E07"/>
<circle cx="630.1" cy="124.9" r="1.45" fill="#FC4E07"/>
<circle cx="626.3" cy="129.8" r="1.45" fill="#FC4E07"/>
<line x1="663.1" y1="87.3" x2="663.1" y2="96.3" stroke="#863D9A" class="wh"/>
<line x1="663.1" y1="113.4" x2="663.1" y2="133.8" stroke="#863D9A" class="wh"/>
<rect x="649.4" y="96.3" width="27.4" height="17.1" stroke="#863D9A" class="box"/>
<line x1="649.4" y1="105.5" x2="676.8" y2="105.5" stroke="#863D9A" class="med"/>
<circle cx="656.4" cy="87.3" r="1.45" fill="#863D9A"/>
<circle cx="672.5" cy="93.9" r="1.45" fill="#863D9A"/>
<circle cx="659.1" cy="97.4" r="1.45" fill="#863D9A"/>
<circle cx="665.7" cy="100.6" r="1.45" fill="#863D9A"/>
<circle cx="653.5" cy="110" r="1.45" fill="#863D9A"/>
<circle cx="669.3" cy="111.9" r="1.45" fill="#863D9A"/>
<circle cx="659.1" cy="118.8" r="1.45" fill="#863D9A"/>
<circle cx="662.8" cy="133.8" r="1.45" fill="#863D9A"/>
<text x="534.3" y="158.3" class="padj">p.adj = 0.010</text>
<line x1="531.2" y1="161.4" x2="684.6" y2="161.4" class="ax"/>
<line x1="553.11" y1="161.4" x2="553.11" y2="164.1" class="tk"/>
<text x="553.11" y="174.4" class="xl">A</text>
<line x1="589.64" y1="161.4" x2="589.64" y2="164.1" class="tk"/>
<text x="589.64" y="174.4" class="xl">M</text>
<line x1="626.16" y1="161.4" x2="626.16" y2="164.1" class="tk"/>
<text x="626.16" y="174.4" class="xl">S</text>
<line x1="662.69" y1="161.4" x2="662.69" y2="164.1" class="tk"/>
<text x="662.69" y="174.4" class="xl">Crt</text>
<text x="-0.45" y="198.8" class="lab">b</text>
<text transform="translate(27.3,282.95) rotate(-90)" class="ttl">Anti−Spike IgG (ng/L)</text>
<rect x="52.5" y="197.5" width="153.9" height="15.6" rx="0.7" class="strip"/>
<text x="129.45" y="209" class="stx">1 month</text>
<line x1="52.5" y1="325.5" x2="206.4" y2="325.5" class="dot"/>
<line x1="74.5" y1="304.3" x2="74.5" y2="310.2" stroke="#00AFBB" class="wh"/>
<rect x="60.8" y="310.2" width="27.4" height="8.2" stroke="#00AFBB" class="box"/>
<line x1="60.8" y1="314.6" x2="88.2" y2="314.6" stroke="#00AFBB" class="med"/>
<circle cx="77.6" cy="303.8" r="1.45" fill="#00AFBB"/>
<circle cx="64.8" cy="310.2" r="1.45" fill="#00AFBB"/>
<circle cx="81.7" cy="314.5" r="1.45" fill="#00AFBB"/>
<circle cx="67.8" cy="318.4" r="1.45" fill="#00AFBB"/>
<circle cx="74.5" cy="342.9" r="1.45" fill="#00AFBB"/>
<line x1="111.1" y1="263.4" x2="111.1" y2="284.6" stroke="#E7B800" class="wh"/>
<line x1="111.1" y1="308.6" x2="111.1" y2="335.7" stroke="#E7B800" class="wh"/>
<rect x="97.4" y="284.6" width="27.4" height="24" stroke="#E7B800" class="box"/>
<line x1="97.4" y1="301.7" x2="124.8" y2="301.7" stroke="#E7B800" class="med"/>
<circle cx="112.1" cy="263.4" r="1.45" fill="#E7B800"/>
<circle cx="107.1" cy="265.8" r="1.45" fill="#E7B800"/>
<circle cx="115.3" cy="266.6" r="1.45" fill="#E7B800"/>
<circle cx="110.6" cy="275.7" r="1.45" fill="#E7B800"/>
<circle cx="112.5" cy="276" r="1.45" fill="#E7B800"/>
<circle cx="107.9" cy="281.7" r="1.45" fill="#E7B800"/>
<circle cx="113.8" cy="284.3" r="1.45" fill="#E7B800"/>
<circle cx="109" cy="289.9" r="1.45" fill="#E7B800"/>
<circle cx="111.4" cy="292.8" r="1.45" fill="#E7B800"/>
<circle cx="104.2" cy="295.8" r="1.45" fill="#E7B800"/>
<circle cx="121.2" cy="299.1" r="1.45" fill="#E7B800"/>
<circle cx="102" cy="303.1" r="1.45" fill="#E7B800"/>
<circle cx="105.6" cy="304.6" r="1.45" fill="#E7B800"/>
<circle cx="113.1" cy="304.6" r="1.45" fill="#E7B800"/>
<circle cx="120.3" cy="303.6" r="1.45" fill="#E7B800"/>
<circle cx="98.9" cy="306.4" r="1.45" fill="#E7B800"/>
<circle cx="108.9" cy="309.3" r="1.45" fill="#E7B800"/>
<circle cx="113.1" cy="310.7" r="1.45" fill="#E7B800"/>
<circle cx="119.9" cy="308.9" r="1.45" fill="#E7B800"/>
<circle cx="108.4" cy="325.4" r="1.45" fill="#E7B800"/>
<circle cx="113.1" cy="325.7" r="1.45" fill="#E7B800"/>
<circle cx="109.4" cy="333.6" r="1.45" fill="#E7B800"/>
<circle cx="110.9" cy="335.7" r="1.45" fill="#E7B800"/>
<line x1="147.9" y1="260.6" x2="147.9" y2="280.6" stroke="#FC4E07" class="wh"/>
<line x1="147.9" y1="301.5" x2="147.9" y2="313.1" stroke="#FC4E07" class="wh"/>
<rect x="134.2" y="280.6" width="27.4" height="20.9" stroke="#FC4E07" class="box"/>
<line x1="134.2" y1="292.75" x2="161.6" y2="292.75" stroke="#FC4E07" class="med"/>
<circle cx="147" cy="260.6" r="1.45" fill="#FC4E07"/>
<circle cx="151.5" cy="258.75" r="1.45" fill="#FC4E07"/>
<circle cx="149.5" cy="269" r="1.45" fill="#FC4E07"/>
<circle cx="144" cy="272.25" r="1.45" fill="#FC4E07"/>
<circle cx="151.75" cy="276" r="1.45" fill="#FC4E07"/>
<circle cx="138.6" cy="282.25" r="1.45" fill="#FC4E07"/>
<circle cx="143.6" cy="280" r="1.45" fill="#FC4E07"/>
<circle cx="148.6" cy="281.9" r="1.45" fill="#FC4E07"/>
<circle cx="156.5" cy="283.1" r="1.45" fill="#FC4E07"/>
<circle cx="146.5" cy="289.4" r="1.45" fill="#FC4E07"/>
<circle cx="139" cy="292.5" r="1.45" fill="#FC4E07"/>
<circle cx="142.75" cy="293.75" r="1.45" fill="#FC4E07"/>
<circle cx="149.9" cy="293.75" r="1.45" fill="#FC4E07"/>
<circle cx="153.6" cy="292.75" r="1.45" fill="#FC4E07"/>
<circle cx="157.4" cy="293.1" r="1.45" fill="#FC4E07"/>
<circle cx="138.25" cy="297.25" r="1.45" fill="#FC4E07"/>
<circle cx="154" cy="300.6" r="1.45" fill="#FC4E07"/>
<circle cx="146.5" cy="303.1" r="1.45" fill="#FC4E07"/>
<circle cx="141.75" cy="308.1" r="1.45" fill="#FC4E07"/>
<circle cx="149.9" cy="307.5" r="1.45" fill="#FC4E07"/>
<circle cx="151.5" cy="311.5" r="1.45" fill="#FC4E07"/>
<circle cx="145.25" cy="314" r="1.45" fill="#FC4E07"/>
<circle cx="147.7" cy="342.2" r="1.45" fill="#FC4E07"/>
<line x1="184.5" y1="253" x2="184.5" y2="269.8" stroke="#863D9A" class="wh"/>
<line x1="184.5" y1="286.2" x2="184.5" y2="295.9" stroke="#863D9A" class="wh"/>
<rect x="170.8" y="269.8" width="27.4" height="16.4" stroke="#863D9A" class="box"/>
<line x1="170.8" y1="279.5" x2="198.2" y2="279.5" stroke="#863D9A" class="med"/>
<circle cx="185.7" cy="253" r="1.45" fill="#863D9A"/>
<circle cx="175.4" cy="256.8" r="1.45" fill="#863D9A"/>
<circle cx="191.1" cy="269.8" r="1.45" fill="#863D9A"/>
<circle cx="181.7" cy="275.1" r="1.45" fill="#863D9A"/>
<circle cx="188" cy="279.5" r="1.45" fill="#863D9A"/>
<circle cx="173.7" cy="284.1" r="1.45" fill="#863D9A"/>
<circle cx="191.1" cy="285.8" r="1.45" fill="#863D9A"/>
<circle cx="181.3" cy="296.1" r="1.45" fill="#863D9A"/>
<circle cx="184.4" cy="312.2" r="1.45" fill="#863D9A"/>
<path d="M73.3 226.3V223.4H184.5V226.3" class="br"/>
<text x="129.02" y="224.4" class="star">*</text>
<path d="M111.2 233.4V230.5H184.5V233.4" class="br"/>
<text x="147.97" y="231.5" class="star">*</text>
<path d="M73.3 243.4V240.5H148.1V243.4" class="br"/>
<text x="110.82" y="241.5" class="star">*</text>
<path d="M73.3 251.5V248.6H109V251.5" class="br"/>
<text x="91.27" y="249.6" class="star">*</text>
<text x="80.5" y="348.8" class="padj">p.adj = 0.0085</text>
<line x1="52.5" y1="352.8" x2="206.4" y2="352.8" class="ax"/>
<line x1="74.49" y1="352.8" x2="74.49" y2="355.5" class="tk"/>
<text x="74.49" y="365.8" class="xl">A</text>
<line x1="111.13" y1="352.8" x2="111.13" y2="355.5" class="tk"/>
<text x="111.13" y="365.8" class="xl">M</text>
<line x1="147.77" y1="352.8" x2="147.77" y2="355.5" class="tk"/>
<text x="147.77" y="365.8" class="xl">S</text>
<line x1="184.41" y1="352.8" x2="184.41" y2="355.5" class="tk"/>
<text x="184.41" y="365.8" class="xl">Crt</text>
<line x1="52.5" y1="213.1" x2="52.5" y2="352.8" class="ax"/>
<line x1="49.9" y1="351.88" x2="52.5" y2="351.88" class="tk"/>
<line x1="49.9" y1="347.98" x2="52.5" y2="347.98" class="tk"/>
<line x1="49.9" y1="345.21" x2="52.5" y2="345.21" class="tk"/>
<line x1="47" y1="343.06" x2="52.5" y2="343.06" class="tk"/>
<line x1="49.9" y1="341.31" x2="52.5" y2="341.31" class="tk"/>
<line x1="49.9" y1="339.83" x2="52.5" y2="339.83" class="tk"/>
<line x1="49.9" y1="338.55" x2="52.5" y2="338.55" class="tk"/>
<line x1="49.9" y1="337.41" x2="52.5" y2="337.41" class="tk"/>
<line x1="45" y1="336.4" x2="52.5" y2="336.4" class="tk"/>
<text x="31.93" y="341.9" class="yl">10</text>
<text x="43.9" y="335.1" class="ys">2</text>
<line x1="49.9" y1="329.74" x2="52.5" y2="329.74" class="tk"/>
<line x1="49.9" y1="325.84" x2="52.5" y2="325.84" class="tk"/>
<line x1="49.9" y1="323.07" x2="52.5" y2="323.07" class="tk"/>
<line x1="47" y1="320.92" x2="52.5" y2="320.92" class="tk"/>
<line x1="49.9" y1="319.17" x2="52.5" y2="319.17" class="tk"/>
<line x1="49.9" y1="317.69" x2="52.5" y2="317.69" class="tk"/>
<line x1="49.9" y1="316.41" x2="52.5" y2="316.41" class="tk"/>
<line x1="49.9" y1="315.27" x2="52.5" y2="315.27" class="tk"/>
<line x1="45" y1="314.26" x2="52.5" y2="314.26" class="tk"/>
<text x="31.93" y="319.76" class="yl">10</text>
<text x="43.9" y="312.96" class="ys">3</text>
<line x1="49.9" y1="307.6" x2="52.5" y2="307.6" class="tk"/>
<line x1="49.9" y1="303.7" x2="52.5" y2="303.7" class="tk"/>
<line x1="49.9" y1="300.93" x2="52.5" y2="300.93" class="tk"/>
<line x1="47" y1="298.78" x2="52.5" y2="298.78" class="tk"/>
<line x1="49.9" y1="297.03" x2="52.5" y2="297.03" class="tk"/>
<line x1="49.9" y1="295.55" x2="52.5" y2="295.55" class="tk"/>
<line x1="49.9" y1="294.27" x2="52.5" y2="294.27" class="tk"/>
<line x1="49.9" y1="293.13" x2="52.5" y2="293.13" class="tk"/>
<line x1="45" y1="292.12" x2="52.5" y2="292.12" class="tk"/>
<text x="31.93" y="297.62" class="yl">10</text>
<text x="43.9" y="290.82" class="ys">4</text>
<line x1="49.9" y1="285.46" x2="52.5" y2="285.46" class="tk"/>
<line x1="49.9" y1="281.56" x2="52.5" y2="281.56" class="tk"/>
<line x1="49.9" y1="278.79" x2="52.5" y2="278.79" class="tk"/>
<line x1="47" y1="276.64" x2="52.5" y2="276.64" class="tk"/>
<line x1="49.9" y1="274.89" x2="52.5" y2="274.89" class="tk"/>
<line x1="49.9" y1="273.41" x2="52.5" y2="273.41" class="tk"/>
<line x1="49.9" y1="272.13" x2="52.5" y2="272.13" class="tk"/>
<line x1="49.9" y1="270.99" x2="52.5" y2="270.99" class="tk"/>
<line x1="45" y1="269.98" x2="52.5" y2="269.98" class="tk"/>
<text x="31.93" y="275.48" class="yl">10</text>
<text x="43.9" y="268.68" class="ys">5</text>
<line x1="49.9" y1="263.32" x2="52.5" y2="263.32" class="tk"/>
<line x1="49.9" y1="259.42" x2="52.5" y2="259.42" class="tk"/>
<line x1="49.9" y1="256.65" x2="52.5" y2="256.65" class="tk"/>
<line x1="47" y1="254.5" x2="52.5" y2="254.5" class="tk"/>
<line x1="49.9" y1="252.75" x2="52.5" y2="252.75" class="tk"/>
<line x1="49.9" y1="251.27" x2="52.5" y2="251.27" class="tk"/>
<line x1="49.9" y1="249.99" x2="52.5" y2="249.99" class="tk"/>
<line x1="49.9" y1="248.85" x2="52.5" y2="248.85" class="tk"/>
<line x1="45" y1="247.84" x2="52.5" y2="247.84" class="tk"/>
<text x="31.93" y="253.34" class="yl">10</text>
<text x="43.9" y="246.54" class="ys">6</text>
<line x1="49.9" y1="241.18" x2="52.5" y2="241.18" class="tk"/>
<line x1="49.9" y1="237.28" x2="52.5" y2="237.28" class="tk"/>
<line x1="49.9" y1="234.51" x2="52.5" y2="234.51" class="tk"/>
<line x1="47" y1="232.36" x2="52.5" y2="232.36" class="tk"/>
<line x1="49.9" y1="230.61" x2="52.5" y2="230.61" class="tk"/>
<line x1="49.9" y1="229.13" x2="52.5" y2="229.13" class="tk"/>
<line x1="49.9" y1="227.85" x2="52.5" y2="227.85" class="tk"/>
<line x1="49.9" y1="226.71" x2="52.5" y2="226.71" class="tk"/>
<line x1="45" y1="225.7" x2="52.5" y2="225.7" class="tk"/>
<text x="31.93" y="231.2" class="yl">10</text>
<text x="43.9" y="224.4" class="ys">7</text>
<rect x="212.3" y="197.5" width="153.3" height="15.6" rx="0.7" class="strip"/>
<text x="288.95" y="209" class="stx">3 months</text>
<line x1="212.3" y1="325.5" x2="365.6" y2="325.5" class="dot"/>
<line x1="234.1" y1="299.3" x2="234.1" y2="301.4" stroke="#00AFBB" class="wh"/>
<rect x="220.4" y="301.4" width="27.4" height="6.1" stroke="#00AFBB" class="box"/>
<line x1="220.4" y1="306.8" x2="247.8" y2="306.8" stroke="#00AFBB" class="med"/>
<circle cx="231.6" cy="298.7" r="1.45" fill="#00AFBB"/>
<circle cx="236.1" cy="299.6" r="1.45" fill="#00AFBB"/>
<circle cx="223.4" cy="306.6" r="1.45" fill="#00AFBB"/>
<circle cx="226.8" cy="308" r="1.45" fill="#00AFBB"/>
<circle cx="241.3" cy="307.5" r="1.45" fill="#00AFBB"/>
<circle cx="233.9" cy="321.4" r="1.45" fill="#00AFBB"/>
<line x1="270.4" y1="284" x2="270.4" y2="299.4" stroke="#E7B800" class="wh"/>
<line x1="270.4" y1="313.75" x2="270.4" y2="335.6" stroke="#E7B800" class="wh"/>
<rect x="256.7" y="299.4" width="27.4" height="14.35" stroke="#E7B800" class="box"/>
<line x1="256.7" y1="306.25" x2="284.1" y2="306.25" stroke="#E7B800" class="med"/>
<circle cx="269.4" cy="275.25" r="1.45" fill="#E7B800"/>
<circle cx="273.1" cy="275.25" r="1.45" fill="#E7B800"/>
<circle cx="271.25" cy="284" r="1.45" fill="#E7B800"/>
<circle cx="268.1" cy="289" r="1.45" fill="#E7B800"/>
<circle cx="273.5" cy="292.75" r="1.45" fill="#E7B800"/>
<circle cx="269.4" cy="297.25" r="1.45" fill="#E7B800"/>
<circle cx="273.1" cy="298.5" r="1.45" fill="#E7B800"/>
<circle cx="264.4" cy="299.75" r="1.45" fill="#E7B800"/>
<circle cx="265.6" cy="302.25" r="1.45" fill="#E7B800"/>
<circle cx="276.9" cy="301.5" r="1.45" fill="#E7B800"/>
<circle cx="271.5" cy="303.1" r="1.45" fill="#E7B800"/>
<circle cx="257.25" cy="304.75" r="1.45" fill="#E7B800"/>
<circle cx="261.9" cy="306.5" r="1.45" fill="#E7B800"/>
<circle cx="268.75" cy="306.25" r="1.45" fill="#E7B800"/>
<circle cx="276.25" cy="306.25" r="1.45" fill="#E7B800"/>
<circle cx="282.75" cy="305" r="1.45" fill="#E7B800"/>
<circle cx="279.4" cy="307.75" r="1.45" fill="#E7B800"/>
<circle cx="266.25" cy="309" r="1.45" fill="#E7B800"/>
<circle cx="271.9" cy="310.25" r="1.45" fill="#E7B800"/>
<circle cx="263.1" cy="313.5" r="1.45" fill="#E7B800"/>
<circle cx="268.5" cy="314.75" r="1.45" fill="#E7B800"/>
<circle cx="272.75" cy="314.75" r="1.45" fill="#E7B800"/>
<circle cx="277.25" cy="314" r="1.45" fill="#E7B800"/>
<circle cx="266.25" cy="320.6" r="1.45" fill="#E7B800"/>
<circle cx="268.1" cy="322.5" r="1.45" fill="#E7B800"/>
<circle cx="273.5" cy="321.9" r="1.45" fill="#E7B800"/>
<circle cx="270.6" cy="335.6" r="1.45" fill="#E7B800"/>
<line x1="307.4" y1="275.1" x2="307.4" y2="290.3" stroke="#FC4E07" class="wh"/>
<line x1="307.4" y1="306.8" x2="307.4" y2="324.9" stroke="#FC4E07" class="wh"/>
<rect x="293.7" y="290.3" width="27.4" height="16.5" stroke="#FC4E07" class="box"/>
<line x1="293.7" y1="298.4" x2="321.1" y2="298.4" stroke="#FC4E07" class="med"/>
<circle cx="302.7" cy="275.4" r="1.45" fill="#FC4E07"/>
<circle cx="309.4" cy="275.1" r="1.45" fill="#FC4E07"/>
<circle cx="304.3" cy="283.1" r="1.45" fill="#FC4E07"/>
<circle cx="311.4" cy="281.4" r="1.45" fill="#FC4E07"/>
<circle cx="308.1" cy="287.7" r="1.45" fill="#FC4E07"/>
<circle cx="296.7" cy="290.3" r="1.45" fill="#FC4E07"/>
<circle cx="305.7" cy="293" r="1.45" fill="#FC4E07"/>
<circle cx="312.4" cy="295.2" r="1.45" fill="#FC4E07"/>
<circle cx="318.8" cy="291.7" r="1.45" fill="#FC4E07"/>
<circle cx="298" cy="298.1" r="1.45" fill="#FC4E07"/>
<circle cx="302.1" cy="299.5" r="1.45" fill="#FC4E07"/>
<circle cx="316.4" cy="298.1" r="1.45" fill="#FC4E07"/>
<circle cx="309.2" cy="301.5" r="1.45" fill="#FC4E07"/>
<circle cx="297.4" cy="305.1" r="1.45" fill="#FC4E07"/>
<circle cx="315.8" cy="305.1" r="1.45" fill="#FC4E07"/>
<circle cx="305.1" cy="307.2" r="1.45" fill="#FC4E07"/>
<circle cx="301.4" cy="322.2" r="1.45" fill="#FC4E07"/>
<circle cx="309.2" cy="320.9" r="1.45" fill="#FC4E07"/>
<circle cx="311" cy="324.9" r="1.45" fill="#FC4E07"/>
<circle cx="305.4" cy="333.6" r="1.45" fill="#FC4E07"/>
<circle cx="307.4" cy="340.3" r="1.45" fill="#FC4E07"/>
<line x1="344" y1="275" x2="344" y2="276.6" stroke="#863D9A" class="wh"/>
<line x1="344" y1="298" x2="344" y2="318.4" stroke="#863D9A" class="wh"/>
<rect x="330.3" y="276.6" width="27.4" height="21.4" stroke="#863D9A" class="box"/>
<line x1="330.3" y1="278" x2="357.7" y2="278" stroke="#863D9A" class="med"/>
<circle cx="336.8" cy="278.4" r="1.45" fill="#863D9A"/>
<circle cx="344.1" cy="275.5" r="1.45" fill="#863D9A"/>
<circle cx="351.3" cy="274.4" r="1.45" fill="#863D9A"/>
<circle cx="344.1" cy="318.4" r="1.45" fill="#863D9A"/>
<text x="216.7" y="348.8" class="padj">p.adj = 0.30</text>
<line x1="212.3" y1="352.8" x2="365.6" y2="352.8" class="ax"/>
<line x1="234.2" y1="352.8" x2="234.2" y2="355.5" class="tk"/>
<text x="234.2" y="365.8" class="xl">A</text>
<line x1="270.7" y1="352.8" x2="270.7" y2="355.5" class="tk"/>
<text x="270.7" y="365.8" class="xl">M</text>
<line x1="307.2" y1="352.8" x2="307.2" y2="355.5" class="tk"/>
<text x="307.2" y="365.8" class="xl">S</text>
<line x1="343.7" y1="352.8" x2="343.7" y2="355.5" class="tk"/>
<text x="343.7" y="365.8" class="xl">Crt</text>
<rect x="371.7" y="197.5" width="153.7" height="15.6" rx="0.7" class="strip"/>
<text x="448.55" y="209" class="stx">6 months</text>
<line x1="371.7" y1="325.5" x2="525.4" y2="325.5" class="dot"/>
<line x1="393.6" y1="307.1" x2="393.6" y2="308.4" stroke="#00AFBB" class="wh"/>
<line x1="393.6" y1="322.3" x2="393.6" y2="335" stroke="#00AFBB" class="wh"/>
<rect x="379.9" y="308.4" width="27.4" height="13.9" stroke="#00AFBB" class="box"/>
<line x1="379.9" y1="309.6" x2="407.3" y2="309.6" stroke="#00AFBB" class="med"/>
<circle cx="400.4" cy="306.8" r="1.45" fill="#00AFBB"/>
<circle cx="386.4" cy="310" r="1.45" fill="#00AFBB"/>
<circle cx="393.4" cy="335" r="1.45" fill="#00AFBB"/>
<line x1="430.1" y1="292.4" x2="430.1" y2="299.5" stroke="#E7B800" class="wh"/>
<line x1="430.1" y1="311.9" x2="430.1" y2="325.9" stroke="#E7B800" class="wh"/>
<rect x="416.4" y="299.5" width="27.4" height="12.4" stroke="#E7B800" class="box"/>
<line x1="416.4" y1="305.4" x2="443.8" y2="305.4" stroke="#E7B800" class="med"/>
<circle cx="426.7" cy="274.1" r="1.45" fill="#E7B800"/>
<circle cx="433.8" cy="292.4" r="1.45" fill="#E7B800"/>
<circle cx="429" cy="296.5" r="1.45" fill="#E7B800"/>
<circle cx="422.3" cy="299.5" r="1.45" fill="#E7B800"/>
<circle cx="434.8" cy="299.5" r="1.45" fill="#E7B800"/>
<circle cx="438.1" cy="300.5" r="1.45" fill="#E7B800"/>
<circle cx="425" cy="304.9" r="1.45" fill="#E7B800"/>
<circle cx="431.7" cy="304.9" r="1.45" fill="#E7B800"/>
<circle cx="417.8" cy="307.2" r="1.45" fill="#E7B800"/>
<circle cx="440.8" cy="306.8" r="1.45" fill="#E7B800"/>
<circle cx="427.4" cy="311.2" r="1.45" fill="#E7B800"/>
<circle cx="433" cy="311.2" r="1.45" fill="#E7B800"/>
<circle cx="423.1" cy="314.5" r="1.45" fill="#E7B800"/>
<circle cx="433.8" cy="316.1" r="1.45" fill="#E7B800"/>
<circle cx="428.5" cy="326.3" r="1.45" fill="#E7B800"/>
<circle cx="430.1" cy="335.3" r="1.45" fill="#E7B800"/>
<line x1="466.8" y1="280.2" x2="466.8" y2="297.6" stroke="#FC4E07" class="wh"/>
<line x1="466.8" y1="322.3" x2="466.8" y2="335.6" stroke="#FC4E07" class="wh"/>
<rect x="453.1" y="297.6" width="27.4" height="24.7" stroke="#FC4E07" class="box"/>
<line x1="453.1" y1="303.4" x2="480.5" y2="303.4" stroke="#FC4E07" class="med"/>
<circle cx="464.4" cy="280.2" r="1.45" fill="#FC4E07"/>
<circle cx="467.6" cy="287.2" r="1.45" fill="#FC4E07"/>
<circle cx="455.1" cy="297" r="1.45" fill="#FC4E07"/>
<circle cx="463.2" cy="299.9" r="1.45" fill="#FC4E07"/>
<circle cx="477.7" cy="299.4" r="1.45" fill="#FC4E07"/>
<circle cx="469.6" cy="307.3" r="1.45" fill="#FC4E07"/>
<circle cx="459.5" cy="309.2" r="1.45" fill="#FC4E07"/>
<circle cx="462.1" cy="327.4" r="1.45" fill="#FC4E07"/>
<circle cx="471.4" cy="326.6" r="1.45" fill="#FC4E07"/>
<circle cx="467" cy="335.6" r="1.45" fill="#FC4E07"/>
<line x1="503.5" y1="272.3" x2="503.5" y2="274" stroke="#863D9A" class="wh"/>
<rect x="489.8" y="274" width="27.4" height="3.6" stroke="#863D9A" class="box"/>
<line x1="489.8" y1="275.8" x2="517.2" y2="275.8" stroke="#863D9A" class="med"/>
<circle cx="496" cy="271.9" r="1.45" fill="#863D9A"/>
<circle cx="503.6" cy="279.6" r="1.45" fill="#863D9A"/>
<text x="375.8" y="348.8" class="padj">p.adj = 0.16</text>
<line x1="371.7" y1="352.8" x2="525.4" y2="352.8" class="ax"/>
<line x1="393.66" y1="352.8" x2="393.66" y2="355.5" class="tk"/>
<text x="393.66" y="365.8" class="xl">A</text>
<line x1="430.25" y1="352.8" x2="430.25" y2="355.5" class="tk"/>
<text x="430.25" y="365.8" class="xl">M</text>
<line x1="466.85" y1="352.8" x2="466.85" y2="355.5" class="tk"/>
<text x="466.85" y="365.8" class="xl">S</text>
<line x1="503.44" y1="352.8" x2="503.44" y2="355.5" class="tk"/>
<text x="503.44" y="365.8" class="xl">Crt</text>
<rect x="531.2" y="197.5" width="153.4" height="15.6" rx="0.7" class="strip"/>
<text x="607.9" y="209" class="stx">12 months</text>
<line x1="531.2" y1="325.5" x2="684.6" y2="325.5" class="dot"/>
<rect x="539.3" y="328.2" width="27.4" height="0.01" stroke="#00AFBB" class="box"/>
<line x1="539.3" y1="328.2" x2="566.7" y2="328.2" stroke="#00AFBB" class="med"/>
<circle cx="553" cy="328.2" r="1.45" fill="#00AFBB"/>
<line x1="589.6" y1="296.5" x2="589.6" y2="299.1" stroke="#E7B800" class="wh"/>
<rect x="575.9" y="299.1" width="27.4" height="10.5" stroke="#E7B800" class="box"/>
<line x1="575.9" y1="306.6" x2="603.3" y2="306.6" stroke="#E7B800" class="med"/>
<circle cx="588" cy="281.4" r="1.45" fill="#E7B800"/>
<circle cx="590.9" cy="296.5" r="1.45" fill="#E7B800"/>
<circle cx="581" cy="305.4" r="1.45" fill="#E7B800"/>
<circle cx="596.7" cy="308.1" r="1.45" fill="#E7B800"/>
<circle cx="582.2" cy="310.7" r="1.45" fill="#E7B800"/>
<circle cx="589.5" cy="312.1" r="1.45" fill="#E7B800"/>
<line x1="626.3" y1="320.2" x2="626.3" y2="335.3" stroke="#FC4E07" class="wh"/>
<rect x="612.6" y="305.7" width="27.4" height="14.5" stroke="#FC4E07" class="box"/>
<line x1="612.6" y1="305.7" x2="640" y2="305.7" stroke="#FC4E07" class="med"/>
<circle cx="619" cy="305.7" r="1.45" fill="#FC4E07"/>
<circle cx="633.2" cy="304.6" r="1.45" fill="#FC4E07"/>
<circle cx="626.3" cy="335.3" r="1.45" fill="#FC4E07"/>
<rect x="649.3" y="273.5" width="27.4" height="0.01" stroke="#863D9A" class="box"/>
<line x1="649.3" y1="273.5" x2="676.7" y2="273.5" stroke="#863D9A" class="med"/>
<circle cx="663" cy="273.5" r="1.45" fill="#863D9A"/>
<text x="534.9" y="348.8" class="padj">p.adj = 0.47</text>
<line x1="531.2" y1="352.8" x2="684.6" y2="352.8" class="ax"/>
<line x1="553.11" y1="352.8" x2="553.11" y2="355.5" class="tk"/>
<text x="553.11" y="365.8" class="xl">A</text>
<line x1="589.64" y1="352.8" x2="589.64" y2="355.5" class="tk"/>
<text x="589.64" y="365.8" class="xl">M</text>
<line x1="626.16" y1="352.8" x2="626.16" y2="355.5" class="tk"/>
<text x="626.16" y="365.8" class="xl">S</text>
<line x1="662.69" y1="352.8" x2="662.69" y2="355.5" class="tk"/>
<text x="662.69" y="365.8" class="xl">Crt</text>
<text x="0" y="388.8" class="lab">c</text>
<text transform="translate(24,476.75) rotate(-90)" class="ttl">Anti−RBD IgG (ng/L)</text>
<rect x="50.3" y="390.4" width="153.3" height="15.9" rx="0.7" class="strip"/>
<text x="126.95" y="401.9" class="stx">1 month</text>
<line x1="50.3" y1="515.9" x2="203.6" y2="515.9" class="dot"/>
<line x1="71.9" y1="470.4" x2="71.9" y2="498.8" stroke="#00AFBB" class="wh"/>
<line x1="71.9" y1="517.2" x2="71.9" y2="523.4" stroke="#00AFBB" class="wh"/>
<rect x="58.2" y="498.8" width="27.4" height="18.4" stroke="#00AFBB" class="box"/>
<line x1="58.2" y1="507.9" x2="85.6" y2="507.9" stroke="#00AFBB" class="med"/>
<circle cx="77.1" cy="470.1" r="1.45" fill="#00AFBB"/>
<circle cx="68.5" cy="497.2" r="1.45" fill="#00AFBB"/>
<circle cx="75.3" cy="499.8" r="1.45" fill="#00AFBB"/>
<circle cx="63.2" cy="507.7" r="1.45" fill="#00AFBB"/>
<circle cx="77.6" cy="513.6" r="1.45" fill="#00AFBB"/>
<circle cx="64.4" cy="521.4" r="1.45" fill="#00AFBB"/>
<circle cx="71.9" cy="523.4" r="1.45" fill="#00AFBB"/>
<line x1="108.5" y1="443.3" x2="108.5" y2="466.4" stroke="#E7B800" class="wh"/>
<line x1="108.5" y1="498.6" x2="108.5" y2="515.7" stroke="#E7B800" class="wh"/>
<rect x="94.8" y="466.4" width="27.4" height="32.2" stroke="#E7B800" class="box"/>
<line x1="94.8" y1="489" x2="122.2" y2="489" stroke="#E7B800" class="med"/>
<circle cx="109.5" cy="443.4" r="1.45" fill="#E7B800"/>
<circle cx="106.4" cy="449.7" r="1.45" fill="#E7B800"/>
<circle cx="112.6" cy="454.3" r="1.45" fill="#E7B800"/>
<circle cx="102.1" cy="459.7" r="1.45" fill="#E7B800"/>
<circle cx="106.4" cy="457.4" r="1.45" fill="#E7B800"/>
<circle cx="110.1" cy="458.9" r="1.45" fill="#E7B800"/>
<circle cx="114.4" cy="462.6" r="1.45" fill="#E7B800"/>
<circle cx="107.6" cy="466.4" r="1.45" fill="#E7B800"/>
<circle cx="110.4" cy="469.3" r="1.45" fill="#E7B800"/>
<circle cx="105.4" cy="475.4" r="1.45" fill="#E7B800"/>
<circle cx="111.1" cy="476" r="1.45" fill="#E7B800"/>
<circle cx="99.3" cy="486.4" r="1.45" fill="#E7B800"/>
<circle cx="104.4" cy="486" r="1.45" fill="#E7B800"/>
<circle cx="109.3" cy="486" r="1.45" fill="#E7B800"/>
<circle cx="106.9" cy="490.7" r="1.45" fill="#E7B800"/>
<circle cx="113.6" cy="490.7" r="1.45" fill="#E7B800"/>
<circle cx="118.7" cy="488.9" r="1.45" fill="#E7B800"/>
<circle cx="100.4" cy="493.1" r="1.45" fill="#E7B800"/>
<circle cx="103.3" cy="496" r="1.45" fill="#E7B800"/>
<circle cx="117.3" cy="495.4" r="1.45" fill="#E7B800"/>
<circle cx="110.4" cy="497.4" r="1.45" fill="#E7B800"/>
<circle cx="95.9" cy="498.9" r="1.45" fill="#E7B800"/>
<circle cx="98.7" cy="501.7" r="1.45" fill="#E7B800"/>
<circle cx="105" cy="500.3" r="1.45" fill="#E7B800"/>
<circle cx="112.1" cy="501.1" r="1.45" fill="#E7B800"/>
<circle cx="114" cy="503.1" r="1.45" fill="#E7B800"/>
<circle cx="119.7" cy="498.9" r="1.45" fill="#E7B800"/>
<circle cx="105" cy="506.4" r="1.45" fill="#E7B800"/>
<circle cx="108.3" cy="515.7" r="1.45" fill="#E7B800"/>
<line x1="145.3" y1="447.1" x2="145.3" y2="461.25" stroke="#FC4E07" class="wh"/>
<line x1="145.3" y1="473.2" x2="145.3" y2="479.7" stroke="#FC4E07" class="wh"/>
<rect x="131.6" y="461.25" width="27.4" height="11.95" stroke="#FC4E07" class="box"/>
<line x1="131.6" y1="466.1" x2="159" y2="466.1" stroke="#FC4E07" class="med"/>
<circle cx="148" cy="447.1" r="1.45" fill="#FC4E07"/>
<circle cx="143.6" cy="449.1" r="1.45" fill="#FC4E07"/>
<circle cx="146" cy="449.6" r="1.45" fill="#FC4E07"/>
<circle cx="142.1" cy="452.5" r="1.45" fill="#FC4E07"/>
<circle cx="147.8" cy="455.4" r="1.45" fill="#FC4E07"/>
<circle cx="144.2" cy="458.9" r="1.45" fill="#FC4E07"/>
<circle cx="146.4" cy="459.2" r="1.45" fill="#FC4E07"/>
<circle cx="138.8" cy="462.8" r="1.45" fill="#FC4E07"/>
<circle cx="141.1" cy="462.8" r="1.45" fill="#FC4E07"/>
<circle cx="150.9" cy="462.8" r="1.45" fill="#FC4E07"/>
<circle cx="146" cy="464.1" r="1.45" fill="#FC4E07"/>
<circle cx="130.8" cy="465.4" r="1.45" fill="#FC4E07"/>
<circle cx="136.2" cy="466.3" r="1.45" fill="#FC4E07"/>
<circle cx="143.3" cy="466.3" r="1.45" fill="#FC4E07"/>
<circle cx="148.7" cy="466.1" r="1.45" fill="#FC4E07"/>
<circle cx="153.6" cy="466.3" r="1.45" fill="#FC4E07"/>
<circle cx="158" cy="465.9" r="1.45" fill="#FC4E07"/>
<circle cx="140.9" cy="467.9" r="1.45" fill="#FC4E07"/>
<circle cx="146.6" cy="468.4" r="1.45" fill="#FC4E07"/>
<circle cx="142.4" cy="472" r="1.45" fill="#FC4E07"/>
<circle cx="148.4" cy="474.4" r="1.45" fill="#FC4E07"/>
<circle cx="143.75" cy="476.8" r="1.45" fill="#FC4E07"/>
<circle cx="146.25" cy="478.6" r="1.45" fill="#FC4E07"/>
<circle cx="141.25" cy="479.7" r="1.45" fill="#FC4E07"/>
<circle cx="148" cy="480" r="1.45" fill="#FC4E07"/>
<circle cx="144.7" cy="504" r="1.45" fill="#FC4E07"/>
<circle cx="145.4" cy="518.3" r="1.45" fill="#FC4E07"/>
<line x1="182" y1="449.7" x2="182" y2="454" stroke="#863D9A" class="wh"/>
<line x1="182" y1="476.4" x2="182" y2="510.3" stroke="#863D9A" class="wh"/>
<rect x="168.3" y="454" width="27.4" height="22.4" stroke="#863D9A" class="box"/>
<line x1="168.3" y1="465" x2="195.7" y2="465" stroke="#863D9A" class="med"/>
<circle cx="176.6" cy="451.1" r="1.45" fill="#863D9A"/>
<circle cx="189.1" cy="449.3" r="1.45" fill="#863D9A"/>
<circle cx="169.4" cy="454.3" r="1.45" fill="#863D9A"/>
<circle cx="183.4" cy="453.1" r="1.45" fill="#863D9A"/>
<circle cx="192.3" cy="455" r="1.45" fill="#863D9A"/>
<circle cx="179.9" cy="465" r="1.45" fill="#863D9A"/>
<circle cx="183.7" cy="468.6" r="1.45" fill="#863D9A"/>
<circle cx="176.6" cy="472.6" r="1.45" fill="#863D9A"/>
<circle cx="185.1" cy="480.7" r="1.45" fill="#863D9A"/>
<circle cx="179.1" cy="484.6" r="1.45" fill="#863D9A"/>
<circle cx="182" cy="510.3" r="1.45" fill="#863D9A"/>
<path d="M70.5 415.8V412.9H182.1V415.8" class="br"/>
<text x="126.42" y="413.9" class="star">**</text>
<path d="M108.5 422.9V420H182.1V422.9" class="br"/>
<text x="145.42" y="421" class="star">*</text>
<path d="M70.5 432.6V429.7H145.6V432.6" class="br"/>
<text x="108.17" y="430.7" class="star">***</text>
<path d="M70.5 440.8V437.9H106.5V440.8" class="br"/>
<text x="88.62" y="438.9" class="star">*</text>
<path d="M110.2 440.8V437.9H147.9V440.8" class="br"/>
<text x="129.17" y="438.9" class="star">*</text>
<text x="53.5" y="541.2" class="padj">p.adj = 0.0085</text>
<line x1="50.3" y1="547.2" x2="203.6" y2="547.2" class="ax"/>
<line x1="72.2" y1="547.2" x2="72.2" y2="549.9" class="tk"/>
<text x="72.2" y="560.2" class="xl">A</text>
<line x1="108.7" y1="547.2" x2="108.7" y2="549.9" class="tk"/>
<text x="108.7" y="560.2" class="xl">M</text>
<line x1="145.2" y1="547.2" x2="145.2" y2="549.9" class="tk"/>
<text x="145.2" y="560.2" class="xl">S</text>
<line x1="181.7" y1="547.2" x2="181.7" y2="549.9" class="tk"/>
<text x="181.7" y="560.2" class="xl">Crt</text>
<line x1="50.3" y1="406.3" x2="50.3" y2="547.2" class="ax"/>
<line x1="47.7" y1="545.89" x2="50.3" y2="545.89" class="tk"/>
<line x1="47.7" y1="542.01" x2="50.3" y2="542.01" class="tk"/>
<line x1="47.7" y1="539.26" x2="50.3" y2="539.26" class="tk"/>
<line x1="44.8" y1="537.13" x2="50.3" y2="537.13" class="tk"/>
<line x1="47.7" y1="535.39" x2="50.3" y2="535.39" class="tk"/>
<line x1="47.7" y1="533.91" x2="50.3" y2="533.91" class="tk"/>
<line x1="47.7" y1="532.63" x2="50.3" y2="532.63" class="tk"/>
<line x1="47.7" y1="531.51" x2="50.3" y2="531.51" class="tk"/>
<line x1="42.8" y1="530.5" x2="50.3" y2="530.5" class="tk"/>
<text x="29.73" y="536" class="yl">10</text>
<text x="41.7" y="529.2" class="ys">2</text>
<line x1="47.7" y1="523.87" x2="50.3" y2="523.87" class="tk"/>
<line x1="47.7" y1="519.99" x2="50.3" y2="519.99" class="tk"/>
<line x1="47.7" y1="517.24" x2="50.3" y2="517.24" class="tk"/>
<line x1="44.8" y1="515.11" x2="50.3" y2="515.11" class="tk"/>
<line x1="47.7" y1="513.37" x2="50.3" y2="513.37" class="tk"/>
<line x1="47.7" y1="511.89" x2="50.3" y2="511.89" class="tk"/>
<line x1="47.7" y1="510.61" x2="50.3" y2="510.61" class="tk"/>
<line x1="47.7" y1="509.49" x2="50.3" y2="509.49" class="tk"/>
<line x1="42.8" y1="508.48" x2="50.3" y2="508.48" class="tk"/>
<text x="29.73" y="513.98" class="yl">10</text>
<text x="41.7" y="507.18" class="ys">3</text>
<line x1="47.7" y1="501.85" x2="50.3" y2="501.85" class="tk"/>
<line x1="47.7" y1="497.97" x2="50.3" y2="497.97" class="tk"/>
<line x1="47.7" y1="495.22" x2="50.3" y2="495.22" class="tk"/>
<line x1="44.8" y1="493.09" x2="50.3" y2="493.09" class="tk"/>
<line x1="47.7" y1="491.35" x2="50.3" y2="491.35" class="tk"/>
<line x1="47.7" y1="489.87" x2="50.3" y2="489.87" class="tk"/>
<line x1="47.7" y1="488.59" x2="50.3" y2="488.59" class="tk"/>
<line x1="47.7" y1="487.47" x2="50.3" y2="487.47" class="tk"/>
<line x1="42.8" y1="486.46" x2="50.3" y2="486.46" class="tk"/>
<text x="29.73" y="491.96" class="yl">10</text>
<text x="41.7" y="485.16" class="ys">4</text>
<line x1="47.7" y1="479.83" x2="50.3" y2="479.83" class="tk"/>
<line x1="47.7" y1="475.95" x2="50.3" y2="475.95" class="tk"/>
<line x1="47.7" y1="473.2" x2="50.3" y2="473.2" class="tk"/>
<line x1="44.8" y1="471.07" x2="50.3" y2="471.07" class="tk"/>
<line x1="47.7" y1="469.33" x2="50.3" y2="469.33" class="tk"/>
<line x1="47.7" y1="467.85" x2="50.3" y2="467.85" class="tk"/>
<line x1="47.7" y1="466.57" x2="50.3" y2="466.57" class="tk"/>
<line x1="47.7" y1="465.45" x2="50.3" y2="465.45" class="tk"/>
<line x1="42.8" y1="464.44" x2="50.3" y2="464.44" class="tk"/>
<text x="29.73" y="469.94" class="yl">10</text>
<text x="41.7" y="463.14" class="ys">5</text>
<line x1="47.7" y1="457.81" x2="50.3" y2="457.81" class="tk"/>
<line x1="47.7" y1="453.93" x2="50.3" y2="453.93" class="tk"/>
<line x1="47.7" y1="451.18" x2="50.3" y2="451.18" class="tk"/>
<line x1="44.8" y1="449.05" x2="50.3" y2="449.05" class="tk"/>
<line x1="47.7" y1="447.31" x2="50.3" y2="447.31" class="tk"/>
<line x1="47.7" y1="445.83" x2="50.3" y2="445.83" class="tk"/>
<line x1="47.7" y1="444.55" x2="50.3" y2="444.55" class="tk"/>
<line x1="47.7" y1="443.43" x2="50.3" y2="443.43" class="tk"/>
<line x1="42.8" y1="442.42" x2="50.3" y2="442.42" class="tk"/>
<text x="29.73" y="447.92" class="yl">10</text>
<text x="41.7" y="441.12" class="ys">6</text>
<line x1="47.7" y1="435.79" x2="50.3" y2="435.79" class="tk"/>
<line x1="47.7" y1="431.91" x2="50.3" y2="431.91" class="tk"/>
<line x1="47.7" y1="429.16" x2="50.3" y2="429.16" class="tk"/>
<line x1="44.8" y1="427.03" x2="50.3" y2="427.03" class="tk"/>
<line x1="47.7" y1="425.29" x2="50.3" y2="425.29" class="tk"/>
<line x1="47.7" y1="423.81" x2="50.3" y2="423.81" class="tk"/>
<line x1="47.7" y1="422.53" x2="50.3" y2="422.53" class="tk"/>
<line x1="47.7" y1="421.41" x2="50.3" y2="421.41" class="tk"/>
<line x1="42.8" y1="420.4" x2="50.3" y2="420.4" class="tk"/>
<text x="29.73" y="425.9" class="yl">10</text>
<text x="41.7" y="419.1" class="ys">7</text>
<rect x="209.4" y="390.4" width="154.1" height="15.9" rx="0.7" class="strip"/>
<text x="286.45" y="401.9" class="stx">3 months</text>
<line x1="209.4" y1="515.9" x2="363.5" y2="515.9" class="dot"/>
<line x1="231.5" y1="491.6" x2="231.5" y2="499.4" stroke="#00AFBB" class="wh"/>
<line x1="231.5" y1="506.25" x2="231.5" y2="511.25" stroke="#00AFBB" class="wh"/>
<rect x="217.8" y="499.4" width="27.4" height="6.85" stroke="#00AFBB" class="box"/>
<line x1="217.8" y1="502.2" x2="245.2" y2="502.2" stroke="#00AFBB" class="med"/>
<circle cx="229" cy="491.6" r="1.45" fill="#00AFBB"/>
<circle cx="234.2" cy="498.4" r="1.45" fill="#00AFBB"/>
<circle cx="220.75" cy="500.3" r="1.45" fill="#00AFBB"/>
<circle cx="237.5" cy="503.75" r="1.45" fill="#00AFBB"/>
<circle cx="226.7" cy="507.5" r="1.45" fill="#00AFBB"/>
<circle cx="231.5" cy="511.25" r="1.45" fill="#00AFBB"/>
<line x1="268.1" y1="464.4" x2="268.1" y2="483.75" stroke="#E7B800" class="wh"/>
<line x1="268.1" y1="499.2" x2="268.1" y2="501" stroke="#E7B800" class="wh"/>
<rect x="254.4" y="483.75" width="27.4" height="15.45" stroke="#E7B800" class="box"/>
<line x1="254.4" y1="492.3" x2="281.8" y2="492.3" stroke="#E7B800" class="med"/>
<circle cx="267.8" cy="456.8" r="1.45" fill="#E7B800"/>
<circle cx="269.25" cy="464.4" r="1.45" fill="#E7B800"/>
<circle cx="266.3" cy="467.1" r="1.45" fill="#E7B800"/>
<circle cx="269.4" cy="471.5" r="1.45" fill="#E7B800"/>
<circle cx="266.75" cy="476.25" r="1.45" fill="#E7B800"/>
<circle cx="269" cy="478.9" r="1.45" fill="#E7B800"/>
<circle cx="263.4" cy="480.4" r="1.45" fill="#E7B800"/>
<circle cx="266.75" cy="484.3" r="1.45" fill="#E7B800"/>
<circle cx="270.75" cy="484.6" r="1.45" fill="#E7B800"/>
<circle cx="274.1" cy="483.6" r="1.45" fill="#E7B800"/>
<circle cx="262.3" cy="486.25" r="1.45" fill="#E7B800"/>
<circle cx="272.8" cy="488" r="1.45" fill="#E7B800"/>
<circle cx="263.9" cy="489.8" r="1.45" fill="#E7B800"/>
<circle cx="256.5" cy="492" r="1.45" fill="#E7B800"/>
<circle cx="268.7" cy="491.2" r="1.45" fill="#E7B800"/>
<circle cx="278.8" cy="492.5" r="1.45" fill="#E7B800"/>
<circle cx="260" cy="494.7" r="1.45" fill="#E7B800"/>
<circle cx="265.7" cy="493.6" r="1.45" fill="#E7B800"/>
<circle cx="275.2" cy="495.4" r="1.45" fill="#E7B800"/>
<circle cx="263.2" cy="497.4" r="1.45" fill="#E7B800"/>
<circle cx="269.9" cy="498.6" r="1.45" fill="#E7B800"/>
<circle cx="257.4" cy="501" r="1.45" fill="#E7B800"/>
<circle cx="261.4" cy="501.4" r="1.45" fill="#E7B800"/>
<circle cx="264.5" cy="500.5" r="1.45" fill="#E7B800"/>
<circle cx="271.4" cy="501" r="1.45" fill="#E7B800"/>
<circle cx="274.6" cy="501" r="1.45" fill="#E7B800"/>
<circle cx="278.8" cy="500.1" r="1.45" fill="#E7B800"/>
<circle cx="268" cy="522.1" r="1.45" fill="#E7B800"/>
<line x1="304.6" y1="461" x2="304.6" y2="472.5" stroke="#FC4E07" class="wh"/>
<line x1="304.6" y1="486.5" x2="304.6" y2="497.5" stroke="#FC4E07" class="wh"/>
<rect x="290.9" y="472.5" width="27.4" height="14" stroke="#FC4E07" class="box"/>
<line x1="290.9" y1="475.25" x2="318.3" y2="475.25" stroke="#FC4E07" class="med"/>
<circle cx="304.4" cy="461" r="1.45" fill="#FC4E07"/>
<circle cx="306.5" cy="466.25" r="1.45" fill="#FC4E07"/>
<circle cx="299.4" cy="468.1" r="1.45" fill="#FC4E07"/>
<circle cx="309.75" cy="469" r="1.45" fill="#FC4E07"/>
<circle cx="300.25" cy="471" r="1.45" fill="#FC4E07"/>
<circle cx="305.25" cy="471.25" r="1.45" fill="#FC4E07"/>
<circle cx="291.25" cy="474" r="1.45" fill="#FC4E07"/>
<circle cx="296" cy="475.6" r="1.45" fill="#FC4E07"/>
<circle cx="302.5" cy="475" r="1.45" fill="#FC4E07"/>
<circle cx="310" cy="474.75" r="1.45" fill="#FC4E07"/>
<circle cx="317.25" cy="475" r="1.45" fill="#FC4E07"/>
<circle cx="300.25" cy="477.75" r="1.45" fill="#FC4E07"/>
<circle cx="313.5" cy="476.9" r="1.45" fill="#FC4E07"/>
<circle cx="298.75" cy="481.9" r="1.45" fill="#FC4E07"/>
<circle cx="305.6" cy="481.5" r="1.45" fill="#FC4E07"/>
<circle cx="309.75" cy="484.75" r="1.45" fill="#FC4E07"/>
<circle cx="303.1" cy="487.5" r="1.45" fill="#FC4E07"/>
<circle cx="300.25" cy="489.75" r="1.45" fill="#FC4E07"/>
<circle cx="306.5" cy="489.4" r="1.45" fill="#FC4E07"/>
<circle cx="305.6" cy="497.5" r="1.45" fill="#FC4E07"/>
<circle cx="303.75" cy="511.9" r="1.45" fill="#FC4E07"/>
<circle cx="304.75" cy="519" r="1.45" fill="#FC4E07"/>
<line x1="341.4" y1="464.4" x2="341.4" y2="472.25" stroke="#863D9A" class="wh"/>
<line x1="341.4" y1="496.9" x2="341.4" y2="513.75" stroke="#863D9A" class="wh"/>
<rect x="327.7" y="472.25" width="27.4" height="24.65" stroke="#863D9A" class="box"/>
<line x1="327.7" y1="480" x2="355.1" y2="480" stroke="#863D9A" class="med"/>
<circle cx="348.5" cy="464.4" r="1.45" fill="#863D9A"/>
<circle cx="333.9" cy="480" r="1.45" fill="#863D9A"/>
<circle cx="341.4" cy="513.75" r="1.45" fill="#863D9A"/>
<path d="M230.2 418V415.1H304.7V418" class="br"/>
<text x="267.57" y="416.1" class="star">**</text>
<path d="M230.2 430.7V427.8H268.4" class="br"/>
<text x="249.42" y="428.8" class="star">*</text>
<path d="M268.9 427.8H304.7V430.7" class="br"/>
<text x="286.92" y="428.8" class="star">*</text>
<rect x="267.3" y="428.2" width="3.2" height="2.8" fill="#8a8a8a"/>
<text x="212.6" y="541.2" class="padj">p.adj = 0.0094</text>
<line x1="209.4" y1="547.2" x2="363.5" y2="547.2" class="ax"/>
<line x1="231.41" y1="547.2" x2="231.41" y2="549.9" class="tk"/>
<text x="231.41" y="560.2" class="xl">A</text>
<line x1="268.1" y1="547.2" x2="268.1" y2="549.9" class="tk"/>
<text x="268.1" y="560.2" class="xl">M</text>
<line x1="304.8" y1="547.2" x2="304.8" y2="549.9" class="tk"/>
<text x="304.8" y="560.2" class="xl">S</text>
<line x1="341.49" y1="547.2" x2="341.49" y2="549.9" class="tk"/>
<text x="341.49" y="560.2" class="xl">Crt</text>
<rect x="368.9" y="390.4" width="153.7" height="15.9" rx="0.7" class="strip"/>
<text x="445.75" y="401.9" class="stx">6 months</text>
<line x1="368.9" y1="515.9" x2="522.6" y2="515.9" class="dot"/>
<line x1="390.8" y1="499" x2="390.8" y2="501.4" stroke="#00AFBB" class="wh"/>
<line x1="390.8" y1="507.4" x2="390.8" y2="510.8" stroke="#00AFBB" class="wh"/>
<rect x="377.1" y="501.4" width="27.4" height="6" stroke="#00AFBB" class="box"/>
<line x1="377.1" y1="504.3" x2="404.5" y2="504.3" stroke="#00AFBB" class="med"/>
<circle cx="398.2" cy="498.7" r="1.45" fill="#00AFBB"/>
<circle cx="383.6" cy="504.3" r="1.45" fill="#00AFBB"/>
<circle cx="390.7" cy="510.8" r="1.45" fill="#00AFBB"/>
<line x1="427.6" y1="473.4" x2="427.6" y2="489.6" stroke="#E7B800" class="wh"/>
<line x1="427.6" y1="505.2" x2="427.6" y2="520.9" stroke="#E7B800" class="wh"/>
<rect x="413.9" y="489.6" width="27.4" height="15.6" stroke="#E7B800" class="box"/>
<line x1="413.9" y1="499" x2="441.3" y2="499" stroke="#E7B800" class="med"/>
<circle cx="425.5" cy="473.4" r="1.45" fill="#E7B800"/>
<circle cx="429.4" cy="479.6" r="1.45" fill="#E7B800"/>
<circle cx="423.2" cy="486.2" r="1.45" fill="#E7B800"/>
<circle cx="428.4" cy="487.5" r="1.45" fill="#E7B800"/>
<circle cx="415.8" cy="488.7" r="1.45" fill="#E7B800"/>
<circle cx="425.9" cy="490.8" r="1.45" fill="#E7B800"/>
<circle cx="438.2" cy="490.4" r="1.45" fill="#E7B800"/>
<circle cx="431.1" cy="493.4" r="1.45" fill="#E7B800"/>
<circle cx="421.5" cy="496.3" r="1.45" fill="#E7B800"/>
<circle cx="434" cy="498" r="1.45" fill="#E7B800"/>
<circle cx="422.7" cy="500.5" r="1.45" fill="#E7B800"/>
<circle cx="429.4" cy="501.2" r="1.45" fill="#E7B800"/>
<circle cx="414.9" cy="502.6" r="1.45" fill="#E7B800"/>
<circle cx="423.9" cy="505.2" r="1.45" fill="#E7B800"/>
<circle cx="431.1" cy="506.1" r="1.45" fill="#E7B800"/>
<circle cx="438.4" cy="504.2" r="1.45" fill="#E7B800"/>
<circle cx="418" cy="507.5" r="1.45" fill="#E7B800"/>
<circle cx="423.7" cy="511.1" r="1.45" fill="#E7B800"/>
<circle cx="431.8" cy="510.3" r="1.45" fill="#E7B800"/>
<circle cx="427.4" cy="520.9" r="1.45" fill="#E7B800"/>
<line x1="464.3" y1="477.1" x2="464.3" y2="482.6" stroke="#FC4E07" class="wh"/>
<line x1="464.3" y1="504.9" x2="464.3" y2="519.1" stroke="#FC4E07" class="wh"/>
<rect x="450.6" y="482.6" width="27.4" height="22.3" stroke="#FC4E07" class="box"/>
<line x1="450.6" y1="492.6" x2="478" y2="492.6" stroke="#FC4E07" class="med"/>
<circle cx="457.6" cy="476.9" r="1.45" fill="#FC4E07"/>
<circle cx="472" cy="478.3" r="1.45" fill="#FC4E07"/>
<circle cx="458.7" cy="481" r="1.45" fill="#FC4E07"/>
<circle cx="465.8" cy="483.3" r="1.45" fill="#FC4E07"/>
<circle cx="452.8" cy="484.9" r="1.45" fill="#FC4E07"/>
<circle cx="471.3" cy="488.2" r="1.45" fill="#FC4E07"/>
<circle cx="462.5" cy="496.5" r="1.45" fill="#FC4E07"/>
<circle cx="466.4" cy="500.3" r="1.45" fill="#FC4E07"/>
<circle cx="458.2" cy="503.4" r="1.45" fill="#FC4E07"/>
<circle cx="467.6" cy="510.1" r="1.45" fill="#FC4E07"/>
<circle cx="460.5" cy="514.4" r="1.45" fill="#FC4E07"/>
<circle cx="464.1" cy="519.1" r="1.45" fill="#FC4E07"/>
<line x1="500.9" y1="470" x2="500.9" y2="473.5" stroke="#863D9A" class="wh"/>
<line x1="500.9" y1="481.4" x2="500.9" y2="485" stroke="#863D9A" class="wh"/>
<rect x="487.2" y="473.5" width="27.4" height="7.9" stroke="#863D9A" class="box"/>
<line x1="487.2" y1="477.3" x2="514.6" y2="477.3" stroke="#863D9A" class="med"/>
<circle cx="493.4" cy="469.4" r="1.45" fill="#863D9A"/>
<circle cx="500.9" cy="485" r="1.45" fill="#863D9A"/>
<text x="372" y="541.2" class="padj">p.adj = 0.19</text>
<line x1="368.9" y1="547.2" x2="522.6" y2="547.2" class="ax"/>
<line x1="390.86" y1="547.2" x2="390.86" y2="549.9" class="tk"/>
<text x="390.86" y="560.2" class="xl">A</text>
<line x1="427.45" y1="547.2" x2="427.45" y2="549.9" class="tk"/>
<text x="427.45" y="560.2" class="xl">M</text>
<line x1="464.05" y1="547.2" x2="464.05" y2="549.9" class="tk"/>
<text x="464.05" y="560.2" class="xl">S</text>
<line x1="500.64" y1="547.2" x2="500.64" y2="549.9" class="tk"/>
<text x="500.64" y="560.2" class="xl">Crt</text>
<rect x="528.5" y="390.4" width="153.9" height="15.9" rx="0.7" class="strip"/>
<text x="605.45" y="401.9" class="stx">12 months</text>
<line x1="528.5" y1="515.9" x2="682.4" y2="515.9" class="dot"/>
<rect x="536.5" y="514" width="27.4" height="0.01" stroke="#00AFBB" class="box"/>
<line x1="536.5" y1="514" x2="563.9" y2="514" stroke="#00AFBB" class="med"/>
<circle cx="550.4" cy="514" r="1.45" fill="#00AFBB"/>
<line x1="587" y1="491.1" x2="587" y2="495.4" stroke="#E7B800" class="wh"/>
<rect x="573.3" y="495.4" width="27.4" height="13.2" stroke="#E7B800" class="box"/>
<line x1="573.3" y1="503.1" x2="600.7" y2="503.1" stroke="#E7B800" class="med"/>
<circle cx="585.1" cy="490.3" r="1.45" fill="#E7B800"/>
<circle cx="575.5" cy="495.2" r="1.45" fill="#E7B800"/>
<circle cx="588.6" cy="495.2" r="1.45" fill="#E7B800"/>
<circle cx="596.3" cy="496.6" r="1.45" fill="#E7B800"/>
<circle cx="585.1" cy="502" r="1.45" fill="#E7B800"/>
<circle cx="589.3" cy="504.5" r="1.45" fill="#E7B800"/>
<circle cx="577.6" cy="507.5" r="1.45" fill="#E7B800"/>
<circle cx="579.6" cy="510.1" r="1.45" fill="#E7B800"/>
<circle cx="587" cy="511.5" r="1.45" fill="#E7B800"/>
<circle cx="594.2" cy="509.2" r="1.45" fill="#E7B800"/>
<line x1="623.6" y1="486.1" x2="623.6" y2="498.1" stroke="#FC4E07" class="wh"/>
<rect x="609.9" y="498.1" width="27.4" height="9.7" stroke="#FC4E07" class="box"/>
<line x1="609.9" y1="502.4" x2="637.3" y2="502.4" stroke="#FC4E07" class="med"/>
<circle cx="618.2" cy="485.8" r="1.45" fill="#FC4E07"/>
<circle cx="616.2" cy="502.8" r="1.45" fill="#FC4E07"/>
<circle cx="631" cy="502" r="1.45" fill="#FC4E07"/>
<circle cx="623.6" cy="522.6" r="1.45" fill="#FC4E07"/>
<rect x="646.6" y="476.7" width="27.4" height="0.01" stroke="#863D9A" class="box"/>
<line x1="646.6" y1="476.7" x2="674" y2="476.7" stroke="#863D9A" class="med"/>
<circle cx="660.4" cy="476.7" r="1.45" fill="#863D9A"/>
<text x="531.6" y="541.2" class="padj">p.adj = 0.73</text>
<line x1="528.5" y1="547.2" x2="682.4" y2="547.2" class="ax"/>
<line x1="550.49" y1="547.2" x2="550.49" y2="549.9" class="tk"/>
<text x="550.49" y="560.2" class="xl">A</text>
<line x1="587.13" y1="547.2" x2="587.13" y2="549.9" class="tk"/>
<text x="587.13" y="560.2" class="xl">M</text>
<line x1="623.77" y1="547.2" x2="623.77" y2="549.9" class="tk"/>
<text x="623.77" y="560.2" class="xl">S</text>
<line x1="660.41" y1="547.2" x2="660.41" y2="549.9" class="tk"/>
<text x="660.41" y="560.2" class="xl">Crt</text>
</svg>
</body></html>
